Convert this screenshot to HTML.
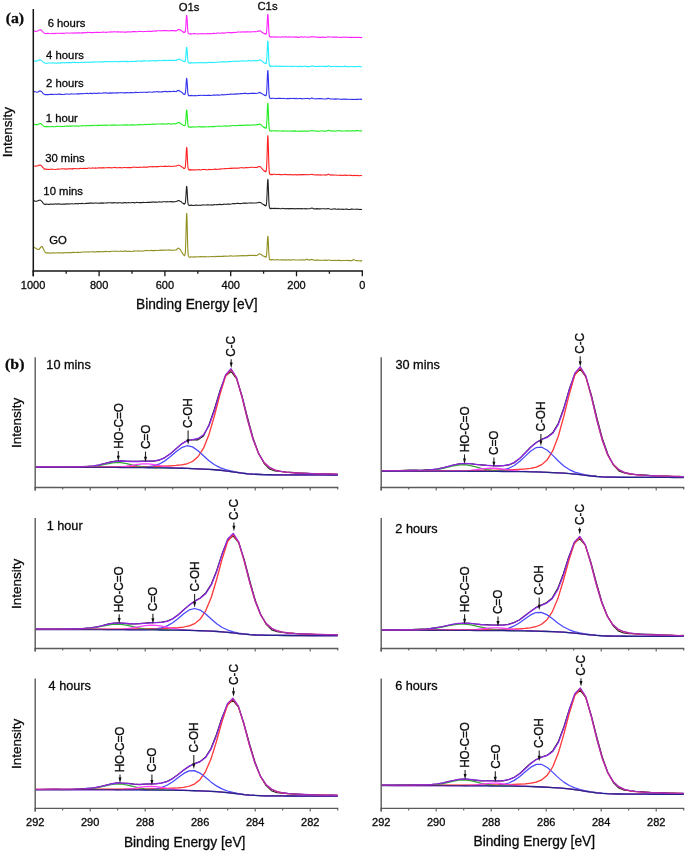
<!DOCTYPE html>
<html><head><meta charset="utf-8"><style>
html,body{margin:0;padding:0;background:#fff;width:685px;height:851px;overflow:hidden}
svg{display:block;will-change:transform;filter:blur(0.35px)}
</style></head><body>
<svg width="685" height="851" viewBox="0 0 685 851">
<rect width="685" height="851" fill="#fff"/>
<path d="M33.3 30.91 L34.3 30.92 L35.3 31.35 L36.3 31.18 L37.3 31.25 L38.3 30.64 L39.3 29.94 L40.3 29.9 L41.3 30.12 L42.3 31.37 L43.3 32.35 L44.3 33.17 L45.3 33.46 L46.3 33.66 L47.3 33.31 L48.3 33.35 L49.3 33.55 L50.3 33.7 L51.3 33.51 L52.3 33.41 L53.3 33.68 L54.3 33.21 L55.3 33.6 L56.3 33.3 L57.3 33.21 L58.3 33.18 L59.3 33.25 L60.3 33.49 L61.3 33.15 L62.3 33.33 L63.3 33.34 L64.3 33.18 L65.3 33.24 L66.3 32.98 L67.3 32.95 L68.3 33 L69.3 33.21 L70.3 33.05 L71.3 32.97 L72.3 33.08 L73.3 32.98 L74.3 32.87 L75.3 33.09 L76.3 33.02 L77.3 32.76 L78.3 32.89 L79.3 32.84 L80.3 32.98 L81.3 32.88 L82.3 32.63 L83.3 32.94 L84.3 32.48 L85.3 32.6 L86.3 32.74 L87.3 32.41 L88.3 32.54 L89.3 32.29 L90.3 32.58 L91.3 32.59 L92.3 32.47 L93.3 32.59 L94.3 32.28 L95.3 32.45 L96.3 32.37 L97.3 32.34 L98.3 32.25 L99.3 32.42 L100.3 32.44 L101.3 32.19 L102.3 32.26 L103.3 31.93 L104.3 32.23 L105.3 32.19 L106.3 32.34 L107.3 32.24 L108.3 31.95 L109.3 31.99 L110.3 32.11 L111.3 31.78 L112.3 31.99 L113.3 31.83 L114.3 31.79 L115.3 31.76 L116.3 32.1 L117.3 31.78 L118.3 31.84 L119.3 31.91 L120.3 32.15 L121.3 31.75 L122.3 31.93 L123.3 31.97 L124.3 32.13 L125.3 32.09 L126.3 32.1 L127.3 31.79 L128.3 31.84 L129.3 31.8 L130.3 32.04 L131.3 32.06 L132.3 31.63 L133.3 31.62 L134.3 31.62 L135.3 31.6 L136.3 31.69 L137.3 31.72 L138.3 31.53 L139.3 31.37 L140.3 31.54 L141.3 31.49 L142.3 31.55 L143.3 31.71 L144.3 31.55 L145.3 31.43 L146.3 31.45 L147.3 31.44 L148.3 31.1 L149.3 31.49 L150.3 31.39 L151.3 31.41 L152.3 31.33 L153.3 31.1 L154.3 31.07 L155.3 30.89 L156.3 31.13 L157.3 30.81 L158.3 30.78 L159.3 30.82 L160.3 30.77 L161.3 30.83 L162.3 30.67 L163.3 30.62 L164.3 30.67 L165.3 30.62 L166.3 30.73 L167.3 30.54 L168.3 30.95 L169.3 30.81 L170.3 30.56 L171.3 30.6 L172.3 30.64 L173.3 30.64 L174.3 30.51 L175.3 30.88 L176.3 30.9 L177.3 30.06 L178.3 29.6 L179.3 29.55 L180.3 30.02 L181.3 30.77 L182.3 31.4 L183.3 32.26 L183.5 32.02 L183.7 32.03 L183.9 32.57 L184.1 32.41 L184.3 32.26 L184.5 32.47 L184.7 32.16 L184.9 32.26 L185.1 32.19 L185.3 31.49 L185.5 30.13 L185.7 27.8 L185.9 24.98 L186.1 21.52 L186.3 18.58 L186.5 16.11 L186.7 15.44 L186.9 16.25 L187.1 18.78 L187.3 22.53 L187.5 26.15 L187.7 29.09 L187.9 31.26 L188.1 32.65 L188.3 33.38 L188.5 33.5 L188.7 33.81 L188.9 33.79 L189.1 33.65 L189.3 33.66 L189.5 33.78 L189.7 33.77 L189.9 33.98 L190.1 34.11 L190.3 33.86 L190.5 34.1 L190.7 34.12 L190.9 34.1 L191.1 33.8 L192.1 33.71 L193.1 33.69 L194.1 33.65 L195.1 33.63 L196.1 33.81 L197.1 33.93 L198.1 33.88 L199.1 33.69 L200.1 33.78 L201.1 33.85 L202.1 33.48 L203.1 33.76 L204.1 33.87 L205.1 33.8 L206.1 33.76 L207.1 33.6 L208.1 33.43 L209.1 33.71 L210.1 33.45 L211.1 33.65 L212.1 33.7 L213.1 33.38 L214.1 33.34 L215.1 33.57 L216.1 33.42 L217.1 33.1 L218.1 33.03 L219.1 32.99 L220.1 33.32 L221.1 33.22 L222.1 32.84 L223.1 33.13 L224.1 33.16 L225.1 32.95 L226.1 32.74 L227.1 32.79 L228.1 32.52 L229.1 32.41 L230.1 32.84 L231.1 32.62 L232.1 32.51 L233.1 32.66 L234.1 32.36 L235.1 32.53 L236.1 32.46 L237.1 32.1 L238.1 32.07 L239.1 32.05 L240.1 31.98 L241.1 32.11 L242.1 31.9 L243.1 31.94 L244.1 31.76 L245.1 32.12 L246.1 31.81 L247.1 31.83 L248.1 31.86 L249.1 32 L250.1 31.73 L251.1 31.96 L252.1 31.74 L253.1 31.74 L254.1 31.72 L255.1 31.46 L256.1 31.67 L257.1 31.46 L258.1 31.01 L259.1 31.09 L260.1 30.83 L261.1 31.46 L262.1 32.3 L263.1 32.96 L264.1 33.41 L264.3 33.58 L264.5 33.66 L264.7 33.82 L264.9 33.5 L265.1 33.74 L265.3 33.68 L265.5 33.84 L265.7 34.23 L265.9 34.17 L266.1 34.08 L266.3 33.69 L266.5 32.74 L266.7 30.75 L266.9 28.18 L267.1 24.6 L267.3 20.66 L267.5 17.15 L267.7 14.72 L267.9 14.44 L268.1 16.25 L268.3 19.98 L268.5 24.16 L268.7 28.42 L268.9 31.85 L269.1 33.91 L269.3 35.53 L269.5 36.5 L269.7 36.82 L269.9 36.63 L270.1 36.68 L270.3 36.86 L270.5 36.68 L270.7 36.77 L270.9 36.69 L271.1 36.99 L271.3 37.04 L271.5 37.1 L271.7 36.73 L271.9 37.01 L272.1 36.98 L273.1 36.73 L274.1 37.1 L275.1 37.15 L276.1 36.78 L277.1 37.16 L278.1 36.89 L279.1 36.94 L280.1 37.2 L281.1 37.13 L282.1 36.81 L283.1 36.95 L284.1 37 L285.1 36.92 L286.1 36.86 L287.1 36.93 L288.1 37.14 L289.1 36.8 L290.1 37.08 L291.1 37.03 L292.1 36.83 L293.1 36.99 L294.1 37.14 L295.1 37.09 L296.1 36.87 L297.1 37.34 L298.1 37.24 L299.1 37.34 L300.1 36.9 L301.1 36.98 L302.1 36.87 L303.1 37.24 L304.1 36.99 L305.1 36.92 L306.1 37.07 L307.1 37.32 L308.1 37.27 L309.1 36.99 L310.1 36.88 L311.1 36.93 L312.1 36.61 L313.1 37.07 L314.1 36.92 L315.1 36.92 L316.1 37.24 L317.1 37.12 L318.1 36.95 L319.1 37.39 L320.1 37.24 L321.1 37.33 L322.1 36.98 L323.1 37.37 L324.1 36.98 L325.1 37.39 L326.1 37.18 L327.1 37.01 L328.1 36.73 L329.1 37 L330.1 37.05 L331.1 37.06 L332.1 37.27 L333.1 37.13 L334.1 37.08 L335.1 37.11 L336.1 37.06 L337.1 37.14 L338.1 37.21 L339.1 37.21 L340.1 37.44 L341.1 37.21 L342.1 37.33 L343.1 37.17 L344.1 37.26 L345.1 37.1 L346.1 37.22 L347.1 37.11 L348.1 37.48 L349.1 37.39 L350.1 37.21 L351.1 37.36 L352.1 37.6 L353.1 37.19 L354.1 37.55 L355.1 37.35 L356.1 37.39 L357.1 37.56 L358.1 37.34 L359.1 37.4 L360.1 37.49 L361.1 37.64 L362.1 37.32" fill="none" stroke="#ff22ff" stroke-width="1.1" stroke-linejoin="round" stroke-opacity="1.0"/>
<text x="47.63" y="26.5" font-size="11.3" text-anchor="start" font-family='"Liberation Sans", sans-serif' font-weight="normal" fill="#0a0a0a" stroke="#0a0a0a" stroke-width="0.3">6 hours</text>
<path d="M33.3 60.97 L34.3 61 L35.3 61.14 L36.3 61.15 L37.3 60.98 L38.3 60.38 L39.3 59.94 L40.3 59.69 L41.3 60.42 L42.3 61.11 L43.3 62.1 L44.3 62.78 L45.3 63.27 L46.3 63.28 L47.3 63.18 L48.3 62.98 L49.3 62.96 L50.3 62.97 L51.3 63.05 L52.3 62.89 L53.3 63.02 L54.3 62.91 L55.3 63.25 L56.3 63.24 L57.3 63.01 L58.3 62.84 L59.3 63.18 L60.3 62.84 L61.3 62.84 L62.3 62.64 L63.3 62.81 L64.3 62.83 L65.3 62.82 L66.3 62.64 L67.3 62.77 L68.3 62.5 L69.3 62.6 L70.3 62.48 L71.3 62.61 L72.3 62.4 L73.3 62.37 L74.3 62.48 L75.3 62.41 L76.3 62.56 L77.3 62.5 L78.3 62.58 L79.3 62.5 L80.3 62.5 L81.3 62.55 L82.3 62.28 L83.3 62.22 L84.3 62.51 L85.3 62.07 L86.3 62.32 L87.3 62.25 L88.3 61.92 L89.3 62.29 L90.3 62.29 L91.3 62.13 L92.3 62.15 L93.3 62.16 L94.3 61.8 L95.3 61.96 L96.3 61.92 L97.3 62.06 L98.3 62.02 L99.3 62.01 L100.3 61.86 L101.3 61.99 L102.3 61.87 L103.3 61.85 L104.3 61.6 L105.3 61.48 L106.3 61.51 L107.3 61.61 L108.3 61.46 L109.3 61.81 L110.3 61.66 L111.3 61.68 L112.3 61.67 L113.3 61.68 L114.3 61.58 L115.3 61.33 L116.3 61.72 L117.3 61.69 L118.3 61.56 L119.3 61.58 L120.3 61.64 L121.3 61.34 L122.3 61.67 L123.3 61.42 L124.3 61.33 L125.3 61.41 L126.3 61.63 L127.3 61.35 L128.3 61.61 L129.3 61.71 L130.3 61.44 L131.3 61.37 L132.3 61.39 L133.3 61.47 L134.3 61.49 L135.3 61.39 L136.3 61.37 L137.3 61.06 L138.3 61.07 L139.3 61.09 L140.3 61.3 L141.3 61.05 L142.3 61.15 L143.3 60.84 L144.3 60.83 L145.3 60.91 L146.3 61.07 L147.3 61.05 L148.3 61.01 L149.3 60.78 L150.3 60.86 L151.3 60.8 L152.3 60.77 L153.3 60.56 L154.3 60.92 L155.3 60.54 L156.3 60.9 L157.3 60.85 L158.3 60.36 L159.3 60.55 L160.3 60.7 L161.3 60.75 L162.3 60.46 L163.3 60.35 L164.3 60.3 L165.3 60.64 L166.3 60.26 L167.3 60.42 L168.3 60.19 L169.3 60.36 L170.3 60.56 L171.3 60.14 L172.3 60.48 L173.3 60.31 L174.3 60.5 L175.3 60.4 L176.3 60.12 L177.3 59.88 L178.3 59.2 L179.3 59.09 L180.3 59.44 L181.3 60.18 L182.3 60.7 L183.3 61.08 L183.5 61.07 L183.7 61.24 L183.9 61.28 L184.1 61.59 L184.3 61.2 L184.5 61.58 L184.7 61.59 L184.9 61.1 L185.1 61.27 L185.3 60.65 L185.5 59.69 L185.7 57.64 L185.9 55.29 L186.1 52.51 L186.3 50.13 L186.5 47.98 L186.7 47.23 L186.9 48.15 L187.1 50.24 L187.3 53.03 L187.5 56.01 L187.7 58.9 L187.9 60.46 L188.1 61.95 L188.3 62.24 L188.5 62.56 L188.7 62.82 L188.9 62.72 L189.1 62.83 L189.3 63.12 L189.5 63.08 L189.7 63.05 L189.9 62.95 L190.1 63.09 L190.3 63.1 L190.5 62.9 L190.7 62.99 L190.9 62.65 L191.1 62.99 L192.1 62.82 L193.1 62.95 L194.1 62.87 L195.1 62.67 L196.1 62.53 L197.1 62.94 L198.1 62.53 L199.1 62.69 L200.1 62.62 L201.1 62.6 L202.1 62.81 L203.1 62.92 L204.1 62.55 L205.1 62.73 L206.1 62.54 L207.1 62.64 L208.1 62.54 L209.1 62.39 L210.1 62.36 L211.1 62.35 L212.1 62.67 L213.1 62.43 L214.1 62.25 L215.1 62.55 L216.1 62.55 L217.1 62.24 L218.1 62.04 L219.1 62.02 L220.1 61.92 L221.1 61.99 L222.1 61.82 L223.1 61.84 L224.1 61.8 L225.1 61.9 L226.1 62.01 L227.1 61.89 L228.1 61.66 L229.1 61.61 L230.1 61.61 L231.1 61.49 L232.1 61.42 L233.1 61.23 L234.1 61.28 L235.1 61.58 L236.1 61.11 L237.1 61.25 L238.1 61.26 L239.1 61.33 L240.1 60.97 L241.1 60.95 L242.1 60.9 L243.1 60.93 L244.1 60.92 L245.1 61.14 L246.1 61.05 L247.1 61.03 L248.1 60.58 L249.1 60.56 L250.1 60.88 L251.1 60.95 L252.1 60.72 L253.1 60.76 L254.1 60.46 L255.1 60.65 L256.1 60.91 L257.1 60.78 L258.1 60.44 L259.1 60.17 L260.1 59.88 L261.1 60.34 L262.1 61.15 L263.1 62.16 L264.1 62.87 L264.3 63.08 L264.5 63.04 L264.7 63.05 L264.9 63.13 L265.1 62.99 L265.3 63.13 L265.5 63.02 L265.7 63.53 L265.9 63.31 L266.1 63.51 L266.3 62.81 L266.5 61.48 L266.7 59.41 L266.9 56.46 L267.1 52.67 L267.3 48.23 L267.5 43.86 L267.7 41.21 L267.9 41.05 L268.1 43.11 L268.3 46.93 L268.5 51.66 L268.7 56.52 L268.9 60.04 L269.1 62.88 L269.3 64.61 L269.5 65.73 L269.7 65.99 L269.9 66.29 L270.1 66.15 L270.3 66.06 L270.5 66.07 L270.7 66.43 L270.9 66.3 L271.1 66.11 L271.3 65.96 L271.5 66.2 L271.7 66.29 L271.9 66.16 L272.1 66.08 L273.1 66.29 L274.1 66.43 L275.1 66.08 L276.1 65.99 L277.1 66.15 L278.1 66.2 L279.1 66.34 L280.1 66.11 L281.1 66.41 L282.1 66.39 L283.1 66.29 L284.1 66.15 L285.1 66.54 L286.1 66.22 L287.1 66.48 L288.1 66.2 L289.1 66.2 L290.1 66.48 L291.1 66.26 L292.1 66.59 L293.1 66.37 L294.1 66.22 L295.1 66.25 L296.1 66.35 L297.1 66.48 L298.1 66.62 L299.1 66.22 L300.1 66.35 L301.1 66.26 L302.1 66.64 L303.1 66.22 L304.1 66.18 L305.1 66.18 L306.1 66.35 L307.1 66.61 L308.1 66.6 L309.1 66.53 L310.1 66.6 L311.1 66.22 L312.1 65.78 L313.1 66.11 L314.1 66.63 L315.1 66.55 L316.1 66.2 L317.1 66.52 L318.1 66.38 L319.1 66.38 L320.1 66.36 L321.1 66.29 L322.1 66.21 L323.1 66.35 L324.1 66.39 L325.1 66.7 L326.1 66.28 L327.1 66.58 L328.1 65.81 L329.1 65.97 L330.1 66.57 L331.1 66.66 L332.1 66.47 L333.1 66.28 L334.1 66.5 L335.1 66.46 L336.1 66.73 L337.1 66.37 L338.1 66.47 L339.1 66.74 L340.1 66.31 L341.1 66.5 L342.1 66.71 L343.1 66.69 L344.1 66.33 L345.1 66.33 L346.1 66.35 L347.1 66.78 L348.1 66.45 L349.1 66.7 L350.1 66.78 L351.1 66.5 L352.1 66.47 L353.1 66.82 L354.1 66.65 L355.1 66.47 L356.1 66.7 L357.1 66.5 L358.1 66.49 L359.1 66.35 L360.1 66.73 L361.1 66.81 L362.1 66.67" fill="none" stroke="#22eeff" stroke-width="1.1" stroke-linejoin="round" stroke-opacity="1.0"/>
<text x="46.12" y="58.8" font-size="11.3" text-anchor="start" font-family='"Liberation Sans", sans-serif' font-weight="normal" fill="#0a0a0a" stroke="#0a0a0a" stroke-width="0.3">4 hours</text>
<path d="M33.3 91.92 L34.3 91.55 L35.3 91.84 L36.3 92.08 L37.3 92.2 L38.3 91.82 L39.3 91.13 L40.3 90.88 L41.3 91.41 L42.3 92.46 L43.3 93.81 L44.3 94.22 L45.3 94.65 L46.3 94.62 L47.3 94.66 L48.3 94.63 L49.3 94.54 L50.3 94.39 L51.3 94.37 L52.3 94.38 L53.3 94.58 L54.3 94.22 L55.3 94.26 L56.3 94.52 L57.3 94.25 L58.3 94.14 L59.3 94.11 L60.3 94.34 L61.3 94.21 L62.3 94.51 L63.3 94.44 L64.3 94.47 L65.3 94.08 L66.3 93.96 L67.3 93.94 L68.3 94.12 L69.3 94.19 L70.3 94.03 L71.3 93.9 L72.3 93.96 L73.3 94.03 L74.3 94.02 L75.3 94.03 L76.3 94.05 L77.3 93.92 L78.3 93.62 L79.3 93.95 L80.3 93.64 L81.3 93.74 L82.3 93.61 L83.3 93.76 L84.3 93.46 L85.3 93.45 L86.3 93.42 L87.3 93.34 L88.3 93.67 L89.3 93.49 L90.3 93.33 L91.3 93.34 L92.3 93.6 L93.3 93.33 L94.3 93.16 L95.3 93.42 L96.3 93.32 L97.3 93.46 L98.3 92.98 L99.3 93.14 L100.3 93.29 L101.3 93.28 L102.3 93.29 L103.3 92.83 L104.3 92.93 L105.3 92.82 L106.3 92.84 L107.3 93.21 L108.3 93 L109.3 93.16 L110.3 92.86 L111.3 93.09 L112.3 92.87 L113.3 92.77 L114.3 93.02 L115.3 93.09 L116.3 92.66 L117.3 92.9 L118.3 92.91 L119.3 92.71 L120.3 92.78 L121.3 92.67 L122.3 92.7 L123.3 92.71 L124.3 92.88 L125.3 92.89 L126.3 92.65 L127.3 92.54 L128.3 92.68 L129.3 92.84 L130.3 92.57 L131.3 92.61 L132.3 92.53 L133.3 92.81 L134.3 92.65 L135.3 92.38 L136.3 92.37 L137.3 92.49 L138.3 92.54 L139.3 92.55 L140.3 92.24 L141.3 92.24 L142.3 92.48 L143.3 92.3 L144.3 92.2 L145.3 92.18 L146.3 92.46 L147.3 92.11 L148.3 92.2 L149.3 92.06 L150.3 92.05 L151.3 92.24 L152.3 92.27 L153.3 91.92 L154.3 91.8 L155.3 92.03 L156.3 91.74 L157.3 91.6 L158.3 92.02 L159.3 91.75 L160.3 91.92 L161.3 91.68 L162.3 91.89 L163.3 91.66 L164.3 91.48 L165.3 91.39 L166.3 91.63 L167.3 91.66 L168.3 91.77 L169.3 91.35 L170.3 91.6 L171.3 91.46 L172.3 91.52 L173.3 91.33 L174.3 91.4 L175.3 91.51 L176.3 91.67 L177.3 90.69 L178.3 90.4 L179.3 90.76 L180.3 91.46 L181.3 91.93 L182.3 92.79 L183.3 93.98 L183.5 94.12 L183.7 93.99 L183.9 93.87 L184.1 94.38 L184.3 94.17 L184.5 94.45 L184.7 94.27 L184.9 94.23 L185.1 93.63 L185.3 93.34 L185.5 91.88 L185.7 90 L185.9 87.54 L186.1 84.4 L186.3 81.06 L186.5 78.89 L186.7 78.25 L186.9 79.28 L187.1 81.64 L187.3 84.74 L187.5 88.1 L187.7 91.15 L187.9 93.29 L188.1 94.16 L188.3 95.13 L188.5 95.58 L188.7 95.38 L188.9 95.84 L189.1 95.5 L189.3 95.74 L189.5 95.72 L189.7 95.75 L189.9 95.59 L190.1 95.65 L190.3 95.72 L190.5 95.64 L190.7 95.76 L190.9 95.65 L191.1 95.64 L192.1 95.41 L193.1 95.68 L194.1 95.59 L195.1 95.44 L196.1 95.68 L197.1 95.67 L198.1 95.49 L199.1 95.34 L200.1 95.49 L201.1 95.3 L202.1 95.31 L203.1 95.45 L204.1 95.26 L205.1 95.42 L206.1 95.43 L207.1 95.17 L208.1 95.45 L209.1 95.14 L210.1 95.43 L211.1 95.42 L212.1 95.25 L213.1 94.98 L214.1 95.16 L215.1 95.05 L216.1 95.29 L217.1 94.84 L218.1 95.15 L219.1 95.16 L220.1 94.98 L221.1 94.97 L222.1 94.6 L223.1 94.94 L224.1 94.64 L225.1 94.81 L226.1 94.73 L227.1 94.3 L228.1 94.55 L229.1 94.57 L230.1 94.07 L231.1 94.16 L232.1 94.3 L233.1 93.95 L234.1 94.26 L235.1 93.9 L236.1 94.11 L237.1 93.72 L238.1 93.85 L239.1 94.01 L240.1 93.6 L241.1 93.58 L242.1 93.66 L243.1 93.52 L244.1 93.34 L245.1 93.37 L246.1 93.33 L247.1 93.68 L248.1 93.52 L249.1 93.6 L250.1 93.21 L251.1 93.5 L252.1 93.15 L253.1 93.34 L254.1 93.38 L255.1 93.23 L256.1 93.49 L257.1 93.24 L258.1 92.9 L259.1 92.73 L260.1 92.39 L261.1 93.3 L262.1 93.8 L263.1 94.4 L264.1 95.16 L264.3 94.96 L264.5 95.38 L264.7 95.22 L264.9 95.13 L265.1 95.34 L265.3 95.27 L265.5 95.28 L265.7 95.7 L265.9 95.4 L266.1 95.61 L266.3 94.71 L266.5 93.61 L266.7 91.59 L266.9 88.05 L267.1 83.68 L267.3 78.55 L267.5 73.87 L267.7 70.96 L267.9 70.57 L268.1 73.02 L268.3 77.23 L268.5 82.56 L268.7 87.89 L268.9 91.71 L269.1 94.72 L269.3 96.74 L269.5 97.39 L269.7 97.84 L269.9 98.22 L270.1 98.17 L270.3 98.32 L270.5 98.26 L270.7 98.44 L270.9 98.45 L271.1 98.25 L271.3 98.46 L271.5 98.39 L271.7 98.22 L271.9 98.62 L272.1 98.28 L273.1 98.23 L274.1 98.21 L275.1 98.49 L276.1 98.61 L277.1 98.57 L278.1 98.39 L279.1 98.33 L280.1 98.21 L281.1 98.54 L282.1 98.51 L283.1 98.41 L284.1 98.57 L285.1 98.48 L286.1 98.73 L287.1 98.64 L288.1 98.41 L289.1 98.74 L290.1 98.32 L291.1 98.57 L292.1 98.52 L293.1 98.44 L294.1 98.36 L295.1 98.73 L296.1 98.35 L297.1 98.62 L298.1 98.82 L299.1 98.42 L300.1 98.45 L301.1 98.65 L302.1 98.61 L303.1 98.68 L304.1 98.77 L305.1 98.45 L306.1 98.52 L307.1 98.53 L308.1 98.41 L309.1 98.83 L310.1 98.73 L311.1 98.36 L312.1 97.86 L313.1 98.69 L314.1 98.8 L315.1 98.69 L316.1 98.84 L317.1 98.71 L318.1 98.61 L319.1 98.56 L320.1 98.64 L321.1 98.56 L322.1 98.72 L323.1 98.94 L324.1 98.93 L325.1 99.02 L326.1 98.96 L327.1 98.64 L328.1 98.4 L329.1 98.43 L330.1 99 L331.1 98.96 L332.1 98.85 L333.1 99.05 L334.1 99.23 L335.1 98.87 L336.1 99.22 L337.1 98.81 L338.1 98.95 L339.1 98.95 L340.1 99.22 L341.1 99.33 L342.1 99.25 L343.1 99.05 L344.1 99.35 L345.1 99.08 L346.1 99.05 L347.1 99.4 L348.1 99.27 L349.1 99.32 L350.1 99.31 L351.1 99.48 L352.1 99.23 L353.1 99.43 L354.1 99.37 L355.1 99.45 L356.1 99.25 L357.1 99.4 L358.1 99.33 L359.1 99.2 L360.1 99.15 L361.1 99.36 L362.1 99.09" fill="none" stroke="#3333ee" stroke-width="1.1" stroke-linejoin="round" stroke-opacity="1.0"/>
<text x="46.03" y="86.8" font-size="11.3" text-anchor="start" font-family='"Liberation Sans", sans-serif' font-weight="normal" fill="#0a0a0a" stroke="#0a0a0a" stroke-width="0.3">2 hours</text>
<path d="M33.3 124.61 L34.3 124.32 L35.3 124.44 L36.3 124.6 L37.3 124.89 L38.3 124.22 L39.3 123.71 L40.3 123.46 L41.3 123.84 L42.3 125.01 L43.3 125.92 L44.3 126.6 L45.3 126.72 L46.3 126.38 L47.3 126.64 L48.3 126.52 L49.3 126.74 L50.3 126.74 L51.3 126.76 L52.3 126.34 L53.3 126.73 L54.3 126.74 L55.3 126.74 L56.3 126.31 L57.3 126.34 L58.3 126.27 L59.3 126.22 L60.3 126.6 L61.3 126.57 L62.3 126.46 L63.3 126.53 L64.3 126.41 L65.3 126.21 L66.3 126.09 L67.3 126.07 L68.3 126.37 L69.3 126.07 L70.3 126.1 L71.3 126.12 L72.3 125.89 L73.3 125.98 L74.3 125.97 L75.3 126.15 L76.3 125.95 L77.3 125.9 L78.3 126.19 L79.3 125.93 L80.3 126.07 L81.3 125.92 L82.3 125.6 L83.3 125.76 L84.3 125.74 L85.3 125.88 L86.3 125.63 L87.3 125.78 L88.3 125.67 L89.3 125.48 L90.3 125.77 L91.3 125.36 L92.3 125.69 L93.3 125.34 L94.3 125.23 L95.3 125.3 L96.3 125.55 L97.3 125.64 L98.3 125.12 L99.3 125.34 L100.3 125.32 L101.3 125.45 L102.3 125.12 L103.3 125.25 L104.3 125.16 L105.3 125.38 L106.3 125.08 L107.3 125.4 L108.3 125.05 L109.3 125 L110.3 125.23 L111.3 125.12 L112.3 124.91 L113.3 125.16 L114.3 124.88 L115.3 125.22 L116.3 125.17 L117.3 125.21 L118.3 125.13 L119.3 124.99 L120.3 125.01 L121.3 125.01 L122.3 125.25 L123.3 124.84 L124.3 125.23 L125.3 124.79 L126.3 124.87 L127.3 124.88 L128.3 125.19 L129.3 124.97 L130.3 124.89 L131.3 125.12 L132.3 124.77 L133.3 124.86 L134.3 124.87 L135.3 124.96 L136.3 124.93 L137.3 124.85 L138.3 124.67 L139.3 124.63 L140.3 124.51 L141.3 124.82 L142.3 124.7 L143.3 124.71 L144.3 124.39 L145.3 124.49 L146.3 124.62 L147.3 124.49 L148.3 124.23 L149.3 124.37 L150.3 124.55 L151.3 124.19 L152.3 124.13 L153.3 124.15 L154.3 124.32 L155.3 124.36 L156.3 123.99 L157.3 123.96 L158.3 123.97 L159.3 123.98 L160.3 124.05 L161.3 123.85 L162.3 123.9 L163.3 123.81 L164.3 124.18 L165.3 124.03 L166.3 123.7 L167.3 124.11 L168.3 123.67 L169.3 123.79 L170.3 124.08 L171.3 123.97 L172.3 123.93 L173.3 123.78 L174.3 123.65 L175.3 123.87 L176.3 123.56 L177.3 123.03 L178.3 122.65 L179.3 122.62 L180.3 123.26 L181.3 124.09 L182.3 124.71 L183.3 125.2 L183.5 125.36 L183.7 125.35 L183.9 125.26 L184.1 125.55 L184.3 125.49 L184.5 125.67 L184.7 125.71 L184.9 125.33 L185.1 125.14 L185.3 124.63 L185.5 123.29 L185.7 121.24 L185.9 118.82 L186.1 115.79 L186.3 112.73 L186.5 110.52 L186.7 109.88 L186.9 110.76 L187.1 113.15 L187.3 116.26 L187.5 119.48 L187.7 122.43 L187.9 124.2 L188.1 125.66 L188.3 126.55 L188.5 126.86 L188.7 126.97 L188.9 126.84 L189.1 126.95 L189.3 126.97 L189.5 127.05 L189.7 126.95 L189.9 127.08 L190.1 127.2 L190.3 126.82 L190.5 127.06 L190.7 127.12 L190.9 126.92 L191.1 126.96 L192.1 127.19 L193.1 126.69 L194.1 126.92 L195.1 126.71 L196.1 126.99 L197.1 127.05 L198.1 126.82 L199.1 126.6 L200.1 126.84 L201.1 126.82 L202.1 126.9 L203.1 126.79 L204.1 126.84 L205.1 126.92 L206.1 126.75 L207.1 126.68 L208.1 126.92 L209.1 126.53 L210.1 126.74 L211.1 126.57 L212.1 126.72 L213.1 126.37 L214.1 126.76 L215.1 126.41 L216.1 126.22 L217.1 126.29 L218.1 126.31 L219.1 126.08 L220.1 126.24 L221.1 126.19 L222.1 126.29 L223.1 126.07 L224.1 125.98 L225.1 125.91 L226.1 126.12 L227.1 126.17 L228.1 125.92 L229.1 125.72 L230.1 125.96 L231.1 125.71 L232.1 125.57 L233.1 125.49 L234.1 125.76 L235.1 125.73 L236.1 125.6 L237.1 125.48 L238.1 125.48 L239.1 125.27 L240.1 125.6 L241.1 125.25 L242.1 125.36 L243.1 125.42 L244.1 125.38 L245.1 125.17 L246.1 125.06 L247.1 125.16 L248.1 124.92 L249.1 125.25 L250.1 124.99 L251.1 125.22 L252.1 124.91 L253.1 124.96 L254.1 124.89 L255.1 124.97 L256.1 124.84 L257.1 124.67 L258.1 124.67 L259.1 124.13 L260.1 124.19 L261.1 124.82 L262.1 125.8 L263.1 126.7 L264.1 127.52 L264.3 127.62 L264.5 127.55 L264.7 127.88 L264.9 127.87 L265.1 127.49 L265.3 127.97 L265.5 128.15 L265.7 128.22 L265.9 127.95 L266.1 128.12 L266.3 127.41 L266.5 125.82 L266.7 123.64 L266.9 120.8 L267.1 116.27 L267.3 111.15 L267.5 106.59 L267.7 103.71 L267.9 103.31 L268.1 105.79 L268.3 109.84 L268.5 115 L268.7 120.48 L268.9 124.59 L269.1 127.21 L269.3 129.37 L269.5 130.19 L269.7 130.73 L269.9 130.87 L270.1 131.06 L270.3 131.03 L270.5 131.07 L270.7 130.75 L270.9 131 L271.1 130.92 L271.3 131.02 L271.5 130.87 L271.7 131.09 L271.9 130.93 L272.1 130.79 L273.1 130.78 L274.1 130.73 L275.1 130.91 L276.1 130.7 L277.1 130.92 L278.1 130.76 L279.1 130.94 L280.1 130.96 L281.1 130.99 L282.1 131.16 L283.1 130.74 L284.1 131.16 L285.1 130.99 L286.1 131.04 L287.1 131.11 L288.1 131.2 L289.1 130.98 L290.1 131.01 L291.1 131.29 L292.1 130.85 L293.1 131.14 L294.1 131.15 L295.1 130.85 L296.1 131.15 L297.1 131.19 L298.1 131.31 L299.1 131.01 L300.1 131.34 L301.1 131.11 L302.1 131.09 L303.1 131.3 L304.1 130.86 L305.1 131.2 L306.1 131.15 L307.1 131.01 L308.1 131.27 L309.1 131.01 L310.1 131 L311.1 130.68 L312.1 130.65 L313.1 130.76 L314.1 131.02 L315.1 131.02 L316.1 131.08 L317.1 131.21 L318.1 130.94 L319.1 131.2 L320.1 130.98 L321.1 131.02 L322.1 130.9 L323.1 131.01 L324.1 131.24 L325.1 131.07 L326.1 131.13 L327.1 130.76 L328.1 130.35 L329.1 130.41 L330.1 130.92 L331.1 131.01 L332.1 131.09 L333.1 130.71 L334.1 131.04 L335.1 131.11 L336.1 130.94 L337.1 130.68 L338.1 130.8 L339.1 130.65 L340.1 130.73 L341.1 131.09 L342.1 130.93 L343.1 130.95 L344.1 131.01 L345.1 131.06 L346.1 130.91 L347.1 130.9 L348.1 130.9 L349.1 130.93 L350.1 130.88 L351.1 130.92 L352.1 130.68 L353.1 130.9 L354.1 130.79 L355.1 130.94 L356.1 130.61 L357.1 130.65 L358.1 130.57 L359.1 130.94 L360.1 131.01 L361.1 130.88 L362.1 130.73" fill="none" stroke="#22ee22" stroke-width="1.1" stroke-linejoin="round" stroke-opacity="1.0"/>
<text x="45.75" y="121.9" font-size="11.3" text-anchor="start" font-family='"Liberation Sans", sans-serif' font-weight="normal" fill="#0a0a0a" stroke="#0a0a0a" stroke-width="0.3">1 hour</text>
<path d="M33.3 165.96 L34.3 166.04 L35.3 166.1 L36.3 166.07 L37.3 165.96 L38.3 165.61 L39.3 165.11 L40.3 164.97 L41.3 165.61 L42.3 167.01 L43.3 167.96 L44.3 169.19 L45.3 169.07 L46.3 169.11 L47.3 169.45 L48.3 169.33 L49.3 169.49 L50.3 169.25 L51.3 169.02 L52.3 169.2 L53.3 169.29 L54.3 169.44 L55.3 169.45 L56.3 169.18 L57.3 169.13 L58.3 168.96 L59.3 169.21 L60.3 168.97 L61.3 168.92 L62.3 168.82 L63.3 168.79 L64.3 169.11 L65.3 168.8 L66.3 169.19 L67.3 168.73 L68.3 169.09 L69.3 168.69 L70.3 168.6 L71.3 168.92 L72.3 168.65 L73.3 168.87 L74.3 168.56 L75.3 168.46 L76.3 168.79 L77.3 168.73 L78.3 168.76 L79.3 168.67 L80.3 168.31 L81.3 168.55 L82.3 168.56 L83.3 168.4 L84.3 168.6 L85.3 168.23 L86.3 168.55 L87.3 168.39 L88.3 168 L89.3 167.97 L90.3 168.26 L91.3 168.31 L92.3 167.91 L93.3 167.99 L94.3 168.17 L95.3 167.86 L96.3 168.18 L97.3 167.96 L98.3 167.72 L99.3 167.85 L100.3 167.92 L101.3 167.83 L102.3 167.92 L103.3 167.63 L104.3 167.94 L105.3 167.7 L106.3 167.82 L107.3 167.79 L108.3 167.66 L109.3 167.63 L110.3 167.82 L111.3 167.88 L112.3 167.79 L113.3 167.67 L114.3 167.52 L115.3 167.39 L116.3 167.84 L117.3 167.7 L118.3 167.76 L119.3 167.51 L120.3 167.65 L121.3 167.83 L122.3 167.75 L123.3 167.63 L124.3 167.48 L125.3 167.52 L126.3 167.74 L127.3 167.47 L128.3 167.6 L129.3 167.54 L130.3 167.67 L131.3 167.6 L132.3 167.31 L133.3 167.15 L134.3 167.25 L135.3 167.3 L136.3 167.35 L137.3 167.44 L138.3 167.44 L139.3 166.98 L140.3 167.34 L141.3 167.3 L142.3 167.29 L143.3 167.11 L144.3 166.92 L145.3 167.17 L146.3 167.11 L147.3 167.02 L148.3 167.09 L149.3 166.77 L150.3 166.6 L151.3 166.8 L152.3 166.89 L153.3 166.55 L154.3 166.79 L155.3 166.85 L156.3 166.46 L157.3 166.62 L158.3 166.62 L159.3 166.48 L160.3 166.32 L161.3 166.32 L162.3 166.54 L163.3 166.53 L164.3 166.34 L165.3 166.13 L166.3 166.46 L167.3 166.43 L168.3 166.14 L169.3 166.29 L170.3 166.44 L171.3 166.42 L172.3 166.23 L173.3 166.2 L174.3 166.25 L175.3 166.05 L176.3 166 L177.3 165.42 L178.3 165.21 L179.3 165.21 L180.3 165.85 L181.3 166.51 L182.3 167.36 L183.3 167.85 L183.5 167.91 L183.7 168.48 L183.9 168.25 L184.1 168.19 L184.3 168.5 L184.5 168.58 L184.7 168.21 L184.9 168.24 L185.1 167.74 L185.3 167.01 L185.5 165.19 L185.7 162.63 L185.9 159.59 L186.1 155.43 L186.3 151.27 L186.5 148.42 L186.7 147.28 L186.9 148.77 L187.1 151.72 L187.3 156.16 L187.5 160.34 L187.7 164.01 L187.9 166.74 L188.1 168.07 L188.3 168.89 L188.5 169.43 L188.7 169.62 L188.9 169.65 L189.1 169.66 L189.3 169.92 L189.5 170.08 L189.7 169.87 L189.9 170.11 L190.1 170.09 L190.3 169.67 L190.5 169.93 L190.7 169.83 L190.9 169.68 L191.1 170.1 L192.1 169.73 L193.1 169.86 L194.1 169.87 L195.1 170 L196.1 169.84 L197.1 169.68 L198.1 169.69 L199.1 169.53 L200.1 169.93 L201.1 169.94 L202.1 169.55 L203.1 169.45 L204.1 169.54 L205.1 169.57 L206.1 169.83 L207.1 169.8 L208.1 169.74 L209.1 169.31 L210.1 169.65 L211.1 169.57 L212.1 169.5 L213.1 169.63 L214.1 169.12 L215.1 169.12 L216.1 169.37 L217.1 169.42 L218.1 169.23 L219.1 168.99 L220.1 169.08 L221.1 169.11 L222.1 168.72 L223.1 168.77 L224.1 168.68 L225.1 168.55 L226.1 168.67 L227.1 168.45 L228.1 168.43 L229.1 168.32 L230.1 168.53 L231.1 168.13 L232.1 168.42 L233.1 168.1 L234.1 167.97 L235.1 168.35 L236.1 167.94 L237.1 168.24 L238.1 168.16 L239.1 168.11 L240.1 167.69 L241.1 167.79 L242.1 167.57 L243.1 167.94 L244.1 167.85 L245.1 167.71 L246.1 167.58 L247.1 167.49 L248.1 167.7 L249.1 167.5 L250.1 167.55 L251.1 167.28 L252.1 167.3 L253.1 167.2 L254.1 167.52 L255.1 167.43 L256.1 167.22 L257.1 167.5 L258.1 166.84 L259.1 166.59 L260.1 166.58 L261.1 167.45 L262.1 168.93 L263.1 169.92 L264.1 170.8 L264.3 171.09 L264.5 171.1 L264.7 171.46 L264.9 171.1 L265.1 171.55 L265.3 171.18 L265.5 171.73 L265.7 171.74 L265.9 171.51 L266.1 171.34 L266.3 170.34 L266.5 168.49 L266.7 165.33 L266.9 160.64 L267.1 154.65 L267.3 147.57 L267.5 141.05 L267.7 136.41 L267.9 135.77 L268.1 139.12 L268.3 144.69 L268.5 152.42 L268.7 159.39 L268.9 165.61 L269.1 169.27 L269.3 172.21 L269.5 173.33 L269.7 173.88 L269.9 174.09 L270.1 174.61 L270.3 174.5 L270.5 174.34 L270.7 174.47 L270.9 174.71 L271.1 174.36 L271.3 174.54 L271.5 174.32 L271.7 174.34 L271.9 174.64 L272.1 174.61 L273.1 174.36 L274.1 174.3 L275.1 174.31 L276.1 174.58 L277.1 174.53 L278.1 174.43 L279.1 174.4 L280.1 174.61 L281.1 174.67 L282.1 174.73 L283.1 174.63 L284.1 174.45 L285.1 174.39 L286.1 174.73 L287.1 174.58 L288.1 174.74 L289.1 174.42 L290.1 174.81 L291.1 174.58 L292.1 174.84 L293.1 174.86 L294.1 174.68 L295.1 174.44 L296.1 174.9 L297.1 174.68 L298.1 174.88 L299.1 174.58 L300.1 174.54 L301.1 174.87 L302.1 174.64 L303.1 174.54 L304.1 174.65 L305.1 174.76 L306.1 174.47 L307.1 174.74 L308.1 174.71 L309.1 174.75 L310.1 174.5 L311.1 174.47 L312.1 174.38 L313.1 174.81 L314.1 174.71 L315.1 174.92 L316.1 174.77 L317.1 174.97 L318.1 174.64 L319.1 175.07 L320.1 175.12 L321.1 174.91 L322.1 174.94 L323.1 174.96 L324.1 174.99 L325.1 174.75 L326.1 175.23 L327.1 174.75 L328.1 174.35 L329.1 174.41 L330.1 174.87 L331.1 175.25 L332.1 174.88 L333.1 174.94 L334.1 175.26 L335.1 175.02 L336.1 174.95 L337.1 175.26 L338.1 175.27 L339.1 175.26 L340.1 175.37 L341.1 175.09 L342.1 175.49 L343.1 175.43 L344.1 175.11 L345.1 175.16 L346.1 175.36 L347.1 175.38 L348.1 175.28 L349.1 175.22 L350.1 175.37 L351.1 175.25 L352.1 175.49 L353.1 175.63 L354.1 175.29 L355.1 175.51 L356.1 175.6 L357.1 175.32 L358.1 175.65 L359.1 175.71 L360.1 175.44 L361.1 175.46 L362.1 175.67" fill="none" stroke="#ff2222" stroke-width="1.1" stroke-linejoin="round" stroke-opacity="1.0"/>
<text x="45.15" y="161.7" font-size="11.3" text-anchor="start" font-family='"Liberation Sans", sans-serif' font-weight="normal" fill="#0a0a0a" stroke="#0a0a0a" stroke-width="0.3">30 mins</text>
<path d="M33.3 200.81 L34.3 200.84 L35.3 201.29 L36.3 201.33 L37.3 200.99 L38.3 200.56 L39.3 200.21 L40.3 200.07 L41.3 200.86 L42.3 201.96 L43.3 203.34 L44.3 204.22 L45.3 204.37 L46.3 203.98 L47.3 204.2 L48.3 204.42 L49.3 204.4 L50.3 204.05 L51.3 204.13 L52.3 204.23 L53.3 204.08 L54.3 204.16 L55.3 203.91 L56.3 204.08 L57.3 204.1 L58.3 203.84 L59.3 203.89 L60.3 204.28 L61.3 204.17 L62.3 204.23 L63.3 204.06 L64.3 204.13 L65.3 204.14 L66.3 204.12 L67.3 203.67 L68.3 203.95 L69.3 203.74 L70.3 203.92 L71.3 203.69 L72.3 203.8 L73.3 203.97 L74.3 203.79 L75.3 203.58 L76.3 203.69 L77.3 203.62 L78.3 203.85 L79.3 203.49 L80.3 203.47 L81.3 203.62 L82.3 203.33 L83.3 203.53 L84.3 203.69 L85.3 203.44 L86.3 203.29 L87.3 203.36 L88.3 203.37 L89.3 203.15 L90.3 203.11 L91.3 203.09 L92.3 203.14 L93.3 203.18 L94.3 203.09 L95.3 203.04 L96.3 202.94 L97.3 203.15 L98.3 203.27 L99.3 203.14 L100.3 203.09 L101.3 203.11 L102.3 202.87 L103.3 203.1 L104.3 202.96 L105.3 202.99 L106.3 203 L107.3 202.91 L108.3 202.82 L109.3 202.77 L110.3 202.75 L111.3 202.88 L112.3 202.81 L113.3 202.9 L114.3 202.6 L115.3 202.77 L116.3 203.02 L117.3 202.7 L118.3 202.86 L119.3 202.82 L120.3 202.72 L121.3 203.07 L122.3 202.72 L123.3 202.95 L124.3 202.64 L125.3 202.58 L126.3 202.97 L127.3 202.74 L128.3 202.54 L129.3 202.69 L130.3 202.69 L131.3 202.82 L132.3 202.49 L133.3 202.53 L134.3 202.87 L135.3 202.74 L136.3 202.42 L137.3 202.49 L138.3 202.47 L139.3 202.6 L140.3 202.55 L141.3 202.64 L142.3 202.59 L143.3 202.41 L144.3 202.49 L145.3 202.47 L146.3 202.44 L147.3 202.27 L148.3 202.4 L149.3 202.33 L150.3 202.4 L151.3 201.98 L152.3 202.32 L153.3 201.86 L154.3 202.21 L155.3 202.09 L156.3 202.02 L157.3 202.22 L158.3 202 L159.3 201.9 L160.3 202.06 L161.3 202.08 L162.3 201.92 L163.3 201.79 L164.3 201.8 L165.3 201.79 L166.3 201.9 L167.3 201.67 L168.3 201.7 L169.3 201.77 L170.3 201.67 L171.3 201.63 L172.3 201.86 L173.3 201.88 L174.3 201.7 L175.3 201.67 L176.3 201.49 L177.3 200.98 L178.3 200.43 L179.3 200.82 L180.3 201.34 L181.3 201.81 L182.3 202.99 L183.3 203.35 L183.5 203.72 L183.7 203.81 L183.9 203.95 L184.1 203.64 L184.3 203.8 L184.5 204.05 L184.7 203.55 L184.9 203.41 L185.1 203.37 L185.3 202.66 L185.5 201.57 L185.7 199.32 L185.9 196.25 L186.1 193.02 L186.3 189.44 L186.5 187.02 L186.7 186.29 L186.9 187.2 L187.1 189.84 L187.3 193.51 L187.5 197.02 L187.7 200.4 L187.9 202.52 L188.1 203.87 L188.3 204.44 L188.5 204.96 L188.7 205.15 L188.9 205.29 L189.1 205.32 L189.3 205.48 L189.5 205.52 L189.7 205.28 L189.9 205.26 L190.1 205.35 L190.3 205.53 L190.5 205.2 L190.7 205.29 L190.9 205.43 L191.1 205.11 L192.1 205.16 L193.1 205.46 L194.1 205.36 L195.1 205.18 L196.1 204.96 L197.1 205.33 L198.1 205.21 L199.1 205.26 L200.1 205.35 L201.1 205.29 L202.1 205.05 L203.1 204.91 L204.1 204.96 L205.1 205.06 L206.1 205.03 L207.1 204.85 L208.1 204.82 L209.1 205.02 L210.1 204.97 L211.1 204.82 L212.1 205.1 L213.1 204.88 L214.1 204.54 L215.1 204.69 L216.1 204.83 L217.1 204.54 L218.1 204.69 L219.1 204.29 L220.1 204.39 L221.1 204.61 L222.1 204.43 L223.1 204.42 L224.1 204.13 L225.1 204.22 L226.1 204.2 L227.1 204 L228.1 204.13 L229.1 204.02 L230.1 204.2 L231.1 203.93 L232.1 203.79 L233.1 203.59 L234.1 203.56 L235.1 203.81 L236.1 203.43 L237.1 203.37 L238.1 203.36 L239.1 203.49 L240.1 203.59 L241.1 203.44 L242.1 203.49 L243.1 203.08 L244.1 203.02 L245.1 203.36 L246.1 203.1 L247.1 203.26 L248.1 203.05 L249.1 202.93 L250.1 202.96 L251.1 202.85 L252.1 203.24 L253.1 203.06 L254.1 202.94 L255.1 202.98 L256.1 202.94 L257.1 202.69 L258.1 202.76 L259.1 202.28 L260.1 202.53 L261.1 202.8 L262.1 203.68 L263.1 204.32 L264.1 204.85 L264.3 205.38 L264.5 205.41 L264.7 205.18 L264.9 205.5 L265.1 205.47 L265.3 205.3 L265.5 205.59 L265.7 205.91 L265.9 205.72 L266.1 205.75 L266.3 204.74 L266.5 203.46 L266.7 201.31 L266.9 197.54 L267.1 192.93 L267.3 187.98 L267.5 183.02 L267.7 180.08 L267.9 179.32 L268.1 181.61 L268.3 186.22 L268.5 191.69 L268.7 197.48 L268.9 201.55 L269.1 204.8 L269.3 206.48 L269.5 207.71 L269.7 208.12 L269.9 208.33 L270.1 208.24 L270.3 208.3 L270.5 208.66 L270.7 208.43 L270.9 208.37 L271.1 208.35 L271.3 208.39 L271.5 208.37 L271.7 208.27 L271.9 208.59 L272.1 208.43 L273.1 208.34 L274.1 208.62 L275.1 208.31 L276.1 208.41 L277.1 208.7 L278.1 208.35 L279.1 208.52 L280.1 208.72 L281.1 208.72 L282.1 208.4 L283.1 208.51 L284.1 208.71 L285.1 208.54 L286.1 208.84 L287.1 208.48 L288.1 208.86 L289.1 208.64 L290.1 208.51 L291.1 208.64 L292.1 208.48 L293.1 208.78 L294.1 208.56 L295.1 208.89 L296.1 208.73 L297.1 208.63 L298.1 208.57 L299.1 208.75 L300.1 208.56 L301.1 208.89 L302.1 208.51 L303.1 208.71 L304.1 208.73 L305.1 208.6 L306.1 208.85 L307.1 208.67 L308.1 208.81 L309.1 208.77 L310.1 208.59 L311.1 208.29 L312.1 208 L313.1 208.46 L314.1 208.96 L315.1 208.71 L316.1 208.9 L317.1 208.63 L318.1 208.87 L319.1 208.79 L320.1 208.87 L321.1 208.78 L322.1 208.68 L323.1 208.82 L324.1 208.8 L325.1 208.76 L326.1 209.07 L327.1 208.74 L328.1 208.42 L329.1 208.77 L330.1 209.09 L331.1 209.24 L332.1 209.25 L333.1 208.9 L334.1 208.99 L335.1 208.88 L336.1 209.22 L337.1 209.23 L338.1 209.09 L339.1 209.14 L340.1 209.28 L341.1 209.31 L342.1 209.1 L343.1 209.41 L344.1 209.18 L345.1 209.33 L346.1 209.12 L347.1 209.1 L348.1 209.51 L349.1 209.44 L350.1 209.44 L351.1 209.11 L352.1 209.12 L353.1 209.19 L354.1 209.22 L355.1 209.28 L356.1 209.32 L357.1 209.16 L358.1 209.3 L359.1 209.46 L360.1 209.24 L361.1 209.57 L362.1 209.44" fill="none" stroke="#222222" stroke-width="1.1" stroke-linejoin="round" stroke-opacity="1.0"/>
<text x="43.35" y="195" font-size="11.3" text-anchor="start" font-family='"Liberation Sans", sans-serif' font-weight="normal" fill="#0a0a0a" stroke="#0a0a0a" stroke-width="0.3">10 mins</text>
<path d="M33.3 247.21 L34.3 247.41 L35.3 248.04 L36.3 248.53 L37.3 249.21 L38.3 249.44 L39.3 249.15 L40.3 247.84 L41.3 246.56 L42.3 246.55 L43.3 248.73 L44.3 251 L45.3 252.49 L46.3 252.87 L47.3 252.8 L48.3 253.14 L49.3 252.84 L50.3 253.19 L51.3 253.1 L52.3 252.76 L53.3 253.05 L54.3 252.89 L55.3 253.05 L56.3 253.07 L57.3 252.78 L58.3 252.67 L59.3 253.08 L60.3 252.8 L61.3 253.03 L62.3 252.89 L63.3 252.89 L64.3 252.91 L65.3 252.78 L66.3 252.67 L67.3 252.44 L68.3 252.74 L69.3 252.57 L70.3 252.59 L71.3 252.76 L72.3 252.33 L73.3 252.62 L74.3 252.23 L75.3 252.53 L76.3 252.55 L77.3 252.24 L78.3 252.35 L79.3 252.53 L80.3 252.33 L81.3 252.25 L82.3 252.07 L83.3 251.94 L84.3 252.06 L85.3 252.05 L86.3 251.91 L87.3 251.93 L88.3 251.81 L89.3 252.07 L90.3 252.02 L91.3 251.77 L92.3 251.74 L93.3 251.84 L94.3 251.78 L95.3 251.99 L96.3 251.67 L97.3 251.62 L98.3 251.88 L99.3 251.48 L100.3 251.67 L101.3 251.53 L102.3 251.74 L103.3 251.59 L104.3 251.67 L105.3 251.35 L106.3 251.58 L107.3 251.53 L108.3 251.44 L109.3 251.58 L110.3 251.59 L111.3 251.22 L112.3 251.29 L113.3 251.32 L114.3 251.23 L115.3 251.15 L116.3 251.25 L117.3 251.2 L118.3 251.45 L119.3 251.32 L120.3 251.16 L121.3 251.26 L122.3 251.33 L123.3 251.27 L124.3 251.16 L125.3 251.1 L126.3 251.06 L127.3 251.53 L128.3 251.4 L129.3 251.04 L130.3 251.34 L131.3 251.45 L132.3 251.22 L133.3 250.96 L134.3 251.13 L135.3 251.07 L136.3 250.92 L137.3 251.06 L138.3 250.77 L139.3 251.19 L140.3 251.02 L141.3 250.98 L142.3 251.1 L143.3 250.92 L144.3 250.68 L145.3 250.65 L146.3 250.56 L147.3 250.46 L148.3 250.8 L149.3 250.8 L150.3 250.49 L151.3 250.4 L152.3 250.59 L153.3 250.66 L154.3 250.66 L155.3 250.25 L156.3 250.53 L157.3 250.52 L158.3 250.44 L159.3 250.2 L160.3 250.1 L161.3 250.39 L162.3 250.11 L163.3 250.11 L164.3 250.18 L165.3 250.06 L166.3 250.27 L167.3 249.96 L168.3 249.84 L169.3 250.09 L170.3 250.1 L171.3 250.19 L172.3 250.12 L173.3 250.21 L174.3 250.23 L175.3 250 L176.3 249.92 L177.3 248.82 L178.3 248.11 L179.3 248.64 L180.3 249.56 L181.3 251.48 L182.3 252.93 L183.3 254.54 L183.5 255.04 L183.7 254.81 L183.9 254.97 L184.1 255.32 L184.3 255.29 L184.5 255.59 L184.7 255.11 L184.9 255.15 L185.1 254.34 L185.3 252.6 L185.5 249.25 L185.7 244.11 L185.9 237.35 L186.1 229.14 L186.3 221.2 L186.5 215.38 L186.7 213.37 L186.9 215.79 L187.1 221.88 L187.3 230.02 L187.5 237.97 L187.7 245.1 L187.9 250.34 L188.1 253.67 L188.3 255.39 L188.5 256.21 L188.7 256.56 L188.9 256.83 L189.1 256.95 L189.3 257.22 L189.5 257.2 L189.7 257.17 L189.9 257.23 L190.1 257.22 L190.3 257.04 L190.5 257.14 L190.7 256.76 L190.9 257.06 L191.1 257.02 L192.1 256.85 L193.1 256.96 L194.1 257.13 L195.1 256.87 L196.1 256.92 L197.1 256.73 L198.1 256.74 L199.1 257 L200.1 256.56 L201.1 256.64 L202.1 256.88 L203.1 256.76 L204.1 256.57 L205.1 256.85 L206.1 256.69 L207.1 256.78 L208.1 256.69 L209.1 256.72 L210.1 256.72 L211.1 256.62 L212.1 256.45 L213.1 256.46 L214.1 256.79 L215.1 256.6 L216.1 256.35 L217.1 256.7 L218.1 256.36 L219.1 256.25 L220.1 256.44 L221.1 256.27 L222.1 256.35 L223.1 256.35 L224.1 256.16 L225.1 256.29 L226.1 256.03 L227.1 256.2 L228.1 256.2 L229.1 255.91 L230.1 256.04 L231.1 255.84 L232.1 255.99 L233.1 256.17 L234.1 255.98 L235.1 256.03 L236.1 256.01 L237.1 255.66 L238.1 256.07 L239.1 255.9 L240.1 255.57 L241.1 255.9 L242.1 255.66 L243.1 255.52 L244.1 255.89 L245.1 255.67 L246.1 255.75 L247.1 255.41 L248.1 255.72 L249.1 255.34 L250.1 255.41 L251.1 255.47 L252.1 255.28 L253.1 255.56 L254.1 255.36 L255.1 255.4 L256.1 255.6 L257.1 255.28 L258.1 254.7 L259.1 253.85 L260.1 253.98 L261.1 254.32 L262.1 255.24 L263.1 255.99 L264.1 256.23 L264.3 256.59 L264.5 256.45 L264.7 256.71 L264.9 256.69 L265.1 256.78 L265.3 256.51 L265.5 256.78 L265.7 257.11 L265.9 257.28 L266.1 257.04 L266.3 256.19 L266.5 255.39 L266.7 253.3 L266.9 250.73 L267.1 247.17 L267.3 242.68 L267.5 239.31 L267.7 236.76 L267.9 236.21 L268.1 238.08 L268.3 241.87 L268.5 246.55 L268.7 250.78 L268.9 254.1 L269.1 256.56 L269.3 258.14 L269.5 259.3 L269.7 259.38 L269.9 259.73 L270.1 259.66 L270.3 259.88 L270.5 259.74 L270.7 259.62 L270.9 259.99 L271.1 259.82 L271.3 259.9 L271.5 259.96 L271.7 260.03 L271.9 259.56 L272.1 259.73 L273.1 259.63 L274.1 259.81 L275.1 260 L276.1 259.97 L277.1 259.6 L278.1 259.68 L279.1 260.01 L280.1 259.95 L281.1 259.81 L282.1 259.86 L283.1 259.71 L284.1 260.07 L285.1 259.85 L286.1 260.1 L287.1 259.98 L288.1 259.72 L289.1 259.86 L290.1 259.81 L291.1 260.16 L292.1 260.01 L293.1 259.75 L294.1 259.82 L295.1 259.92 L296.1 259.97 L297.1 260.03 L298.1 259.94 L299.1 259.93 L300.1 259.75 L301.1 260.04 L302.1 259.92 L303.1 259.77 L304.1 259.98 L305.1 260.16 L306.1 259.26 L307.1 259.23 L308.1 259.97 L309.1 259.92 L310.1 259.87 L311.1 259.65 L312.1 259.39 L313.1 259.95 L314.1 260.1 L315.1 260.33 L316.1 260.36 L317.1 259.9 L318.1 260.17 L319.1 260.29 L320.1 260.36 L321.1 260.32 L322.1 260.27 L323.1 260.28 L324.1 260.16 L325.1 260.14 L326.1 260.41 L327.1 260.34 L328.1 259.99 L329.1 259.95 L330.1 260.15 L331.1 260.48 L332.1 260.49 L333.1 260.39 L334.1 260.47 L335.1 260.34 L336.1 260.46 L337.1 260.4 L338.1 260.25 L339.1 260.4 L340.1 260.41 L341.1 260.76 L342.1 260.52 L343.1 260.48 L344.1 260.43 L345.1 260.44 L346.1 260.51 L347.1 260.41 L348.1 260.36 L349.1 260.8 L350.1 260.61 L351.1 260.6 L352.1 260.49 L353.1 259.77 L354.1 259.82 L355.1 260.34 L356.1 260.58 L357.1 260.59 L358.1 260.8 L359.1 260.72 L360.1 260.92 L361.1 260.62 L362.1 260.91" fill="none" stroke="#909020" stroke-width="1.1" stroke-linejoin="round" stroke-opacity="1.0"/>
<text x="49.13" y="244.1" font-size="11.3" text-anchor="start" font-family='"Liberation Sans", sans-serif' font-weight="normal" fill="#0a0a0a" stroke="#0a0a0a" stroke-width="0.3">GO</text>
<line x1="33.3" y1="9" x2="33.3" y2="276.3" stroke="#151515" stroke-width="1.5"/>
<line x1="32.55" y1="271.1" x2="363.05" y2="271.1" stroke="#151515" stroke-width="1.5"/>
<line x1="33.3" y1="271.1" x2="33.3" y2="276.3" stroke="#151515" stroke-width="1.3"/>
<text x="20.87" y="288.8" font-size="11" text-anchor="start" font-family='"Liberation Sans", sans-serif' font-weight="normal" fill="#0a0a0a" stroke="#0a0a0a" stroke-width="0.3">1000</text>
<line x1="66.2" y1="271.1" x2="66.2" y2="273.7" stroke="#151515" stroke-width="1.3"/>
<line x1="99.1" y1="271.1" x2="99.1" y2="276.3" stroke="#151515" stroke-width="1.3"/>
<text x="89.91" y="288.8" font-size="11" text-anchor="start" font-family='"Liberation Sans", sans-serif' font-weight="normal" fill="#0a0a0a" stroke="#0a0a0a" stroke-width="0.3">800</text>
<line x1="132" y1="271.1" x2="132" y2="273.7" stroke="#151515" stroke-width="1.3"/>
<line x1="164.9" y1="271.1" x2="164.9" y2="276.3" stroke="#151515" stroke-width="1.3"/>
<text x="155.69" y="288.8" font-size="11" text-anchor="start" font-family='"Liberation Sans", sans-serif' font-weight="normal" fill="#0a0a0a" stroke="#0a0a0a" stroke-width="0.3">600</text>
<line x1="197.8" y1="271.1" x2="197.8" y2="273.7" stroke="#151515" stroke-width="1.3"/>
<line x1="230.7" y1="271.1" x2="230.7" y2="276.3" stroke="#151515" stroke-width="1.3"/>
<text x="221.62" y="288.8" font-size="11" text-anchor="start" font-family='"Liberation Sans", sans-serif' font-weight="normal" fill="#0a0a0a" stroke="#0a0a0a" stroke-width="0.3">400</text>
<line x1="263.6" y1="271.1" x2="263.6" y2="273.7" stroke="#151515" stroke-width="1.3"/>
<line x1="296.5" y1="271.1" x2="296.5" y2="276.3" stroke="#151515" stroke-width="1.3"/>
<text x="287.29" y="288.8" font-size="11" text-anchor="start" font-family='"Liberation Sans", sans-serif' font-weight="normal" fill="#0a0a0a" stroke="#0a0a0a" stroke-width="0.3">200</text>
<line x1="329.4" y1="271.1" x2="329.4" y2="273.7" stroke="#151515" stroke-width="1.3"/>
<line x1="362.3" y1="271.1" x2="362.3" y2="276.3" stroke="#151515" stroke-width="1.3"/>
<text x="359.25" y="288.8" font-size="11" text-anchor="start" font-family='"Liberation Sans", sans-serif' font-weight="normal" fill="#0a0a0a" stroke="#0a0a0a" stroke-width="0.3">0</text>
<text x="136" y="309.2" font-size="13.75" text-anchor="start" font-family='"Liberation Sans", sans-serif' font-weight="normal" fill="#0a0a0a" stroke="#0a0a0a" stroke-width="0.3">Binding Energy [eV]</text>
<text transform="matrix(0 -1 1.0 0 12.1 157.22)" font-size="13.5" text-anchor="start" font-family='"Liberation Sans", sans-serif' font-weight="normal" fill="#0a0a0a" stroke="#0a0a0a" stroke-width="0.3">Intensity</text>
<text x="178.79" y="11" font-size="11.3" text-anchor="start" font-family='"Liberation Sans", sans-serif' font-weight="normal" fill="#0a0a0a" stroke="#0a0a0a" stroke-width="0.3">O1s</text>
<text x="257.44" y="10.3" font-size="11.3" text-anchor="start" font-family='"Liberation Sans", sans-serif' font-weight="normal" fill="#0a0a0a" stroke="#0a0a0a" stroke-width="0.3">C1s</text>
<text transform="matrix(1.06 0 0 1 5.69 23)" font-size="14.91" text-anchor="start" font-family='"Liberation Serif", serif' font-weight="bold" fill="#0a0a0a" stroke="#0a0a0a" stroke-width="0.3">(a)</text>
<path d="M35.2 467.05 L38.5 466.76 L44 466.66 L49.5 466.84 L55 467.16 L60.5 466.92 L66 467.03 L71.5 466.85 L77 466.97 L82.5 466.46 L88 466.25 L93.5 466.02 L99 464.92 L104.5 463.57 L110 462.03 L115.5 460.98 L121 460.68 L126.5 461.19 L132 461.3 L137.5 461.34 L143 461.05 L148.5 461.12 L154 461.13 L159.5 460.12 L165 457.42 L170.5 453.61 L176 448.87 L181.5 444.07 L187 440.62 L192.5 439.73 L198 439.89 L203.5 435.98 L209 424.66 L214.5 408.75 L220 390.48 L225.5 376.04 L231 371.47 L236.5 378.64 L242 395.75 L247.5 417.48 L253 437.66 L258.5 453.08 L264 463.3 L269.5 469.02 L275 470.95 L280.5 471.39 L286 471.98 L291.5 472.26 L297 472.88 L302.5 473.12 L308 473.42 L313.5 473.71 L319 473.71 L324.5 473.88 L330 473.75 L335.5 474.27 L337.7 474.3" fill="none" stroke="#1a1a1a" stroke-width="1.1" stroke-linejoin="round" stroke-opacity="1.0"/>
<path d="M35.2 467.08 L38.5 467.07 L44 467.06 L49.5 467.05 L55 467.04 L60.5 467.02 L66 467.01 L71.5 466.99 L77 466.97 L82.5 466.95 L88 466.92 L93.5 466.9 L99 466.87 L104.5 466.85 L110 466.83 L115.5 466.81 L121 466.8 L126.5 466.78 L132 466.74 L137.5 466.69 L143 466.62 L148.5 466.53 L154 466.41 L159.5 466.26 L165 466.06 L170.5 465.81 L176 465.46 L181.5 464.88 L187 463.77 L192.5 461.46 L198 456.78 L203.5 448.19 L209 434.43 L214.5 415.56 L220 394.26 L225.5 376.32 L231 369.5 L236.5 377.9 L242 397.21 L247.5 419.58 L253 439.22 L258.5 453.54 L264 462.53 L269.5 467.54 L275 470.13 L280.5 471.47 L286 472.23 L291.5 472.71 L297 473.07 L302.5 473.34 L308 473.56 L313.5 473.75 L319 473.9 L324.5 474.02 L330 474.13 L335.5 474.22 L337.7 474.26" fill="none" stroke="#ff3a3a" stroke-width="1.25" stroke-linejoin="round" stroke-opacity="1.0"/>
<path d="M35.2 467.27 L38.5 467.27 L44 467.27 L49.5 467.27 L55 467.27 L60.5 467.27 L66 467.27 L71.5 467.27 L77 467.27 L82.5 467.27 L88 467.27 L93.5 467.27 L99 467.27 L104.5 467.28 L110 467.29 L115.5 467.32 L121 467.34 L126.5 467.37 L132 467.37 L137.5 467.33 L143 467.17 L148.5 466.75 L154 465.79 L159.5 463.93 L165 460.86 L170.5 456.59 L176 451.77 L181.5 447.65 L187 445.72 L192.5 446.88 L198 450.69 L203.5 455.78 L209 460.75 L214.5 464.74 L220 467.59 L225.5 469.54 L231 470.95 L236.5 472.05 L242 472.92 L247.5 473.59 L253 474.05 L258.5 474.35 L264 474.54 L269.5 474.65 L275 474.72 L280.5 474.77 L286 474.8 L291.5 474.83 L297 474.86 L302.5 474.88 L308 474.89 L313.5 474.91 L319 474.92 L324.5 474.94 L330 474.95 L335.5 474.96 L337.7 474.96" fill="none" stroke="#4848ff" stroke-width="1.25" stroke-linejoin="round" stroke-opacity="1.0"/>
<path d="M35.2 467.27 L38.5 467.27 L44 467.26 L49.5 467.26 L55 467.26 L60.5 467.25 L66 467.24 L71.5 467.22 L77 467.18 L82.5 467.08 L88 466.86 L93.5 466.4 L99 465.6 L104.5 464.47 L110 463.27 L115.5 462.48 L121 462.58 L126.5 463.52 L132 464.82 L137.5 465.98 L143 466.81 L148.5 467.3 L154 467.56 L159.5 467.71 L165 467.81 L170.5 467.91 L176 468.04 L181.5 468.2 L187 468.4 L192.5 468.63 L198 468.86 L203.5 469.11 L209 469.38 L214.5 469.73 L220 470.2 L225.5 470.83 L231 471.59 L236.5 472.41 L242 473.16 L247.5 473.76 L253 474.2 L258.5 474.48 L264 474.64 L269.5 474.74 L275 474.8 L280.5 474.84 L286 474.87 L291.5 474.89 L297 474.91 L302.5 474.92 L308 474.94 L313.5 474.95 L319 474.96 L324.5 474.97 L330 474.98 L335.5 474.98 L337.7 474.99" fill="none" stroke="#36a636" stroke-width="1.25" stroke-linejoin="round" stroke-opacity="1.0"/>
<path d="M35.2 467.29 L38.5 467.29 L44 467.29 L49.5 467.29 L55 467.29 L60.5 467.29 L66 467.29 L71.5 467.29 L77 467.29 L82.5 467.29 L88 467.28 L93.5 467.28 L99 467.27 L104.5 467.26 L110 467.21 L115.5 467.08 L121 466.77 L126.5 466.19 L132 465.34 L137.5 464.41 L143 463.77 L148.5 463.82 L154 464.56 L159.5 465.6 L165 466.56 L170.5 467.27 L176 467.74 L181.5 468.07 L187 468.34 L192.5 468.59 L198 468.84 L203.5 469.09 L209 469.37 L214.5 469.72 L220 470.19 L225.5 470.82 L231 471.58 L236.5 472.4 L242 473.15 L247.5 473.76 L253 474.19 L258.5 474.47 L264 474.64 L269.5 474.74 L275 474.8 L280.5 474.84 L286 474.87 L291.5 474.89 L297 474.91 L302.5 474.92 L308 474.94 L313.5 474.95 L319 474.96 L324.5 474.97 L330 474.98 L335.5 474.98 L337.7 474.99" fill="none" stroke="#ff3cff" stroke-width="1.25" stroke-linejoin="round" stroke-opacity="1.0"/>
<path d="M35.2 467.3 L38.5 467.3 L44 467.3 L49.5 467.31 L55 467.31 L60.5 467.31 L66 467.32 L71.5 467.32 L77 467.32 L82.5 467.33 L88 467.34 L93.5 467.34 L99 467.36 L104.5 467.37 L110 467.4 L115.5 467.44 L121 467.49 L126.5 467.54 L132 467.59 L137.5 467.64 L143 467.69 L148.5 467.74 L154 467.79 L159.5 467.85 L165 467.91 L170.5 467.99 L176 468.1 L181.5 468.26 L187 468.45 L192.5 468.67 L198 468.9 L203.5 469.14 L209 469.41 L214.5 469.76 L220 470.23 L225.5 470.85 L231 471.61 L236.5 472.42 L242 473.17 L247.5 473.78 L253 474.21 L258.5 474.49 L264 474.65 L269.5 474.75 L275 474.81 L280.5 474.85 L286 474.87 L291.5 474.9 L297 474.91 L302.5 474.93 L308 474.94 L313.5 474.95 L319 474.96 L324.5 474.97 L330 474.98 L335.5 474.99 L337.7 474.99" fill="none" stroke="#24248c" stroke-width="1.3" stroke-linejoin="round" stroke-opacity="1.0"/>
<path d="M35.2 467 L38.5 466.99 L44 466.97 L49.5 466.95 L55 466.92 L60.5 466.89 L66 466.85 L71.5 466.8 L77 466.73 L82.5 466.6 L88 466.33 L93.5 465.82 L99 464.95 L104.5 463.74 L110 462.4 L115.5 461.36 L121 461.02 L126.5 461.23 L132 461.49 L137.5 461.49 L143 461.31 L148.5 461.19 L154 460.95 L159.5 459.95 L165 457.56 L170.5 453.61 L176 448.7 L181.5 444.03 L187 440.88 L192.5 439.55 L198 438.47 L203.5 434.76 L209 425.69 L214.5 410.49 L220 391.57 L225.5 374.97 L231 368.8 L236.5 377.48 L242 396.92 L247.5 419.36 L253 439.04 L258.5 453.38 L264 462.39 L269.5 467.42 L275 470.02 L280.5 471.37 L286 472.14 L291.5 472.63 L297 472.99 L302.5 473.28 L308 473.5 L313.5 473.69 L319 473.84 L324.5 473.98 L330 474.09 L335.5 474.18 L337.7 474.22" fill="none" stroke="#8c26e2" stroke-width="1.3" stroke-linejoin="round" stroke-opacity="1.0"/>
<path d="M35.2 467.08 L38.5 467.07 L44 467.06 L49.5 467.05 L55 467.04 L60.5 467.02 L66 467.01 L71.5 466.99 L77 466.97 L82.5 466.95 L88 466.92 L93.5 466.9 L99 466.87 L104.5 466.85 L110 466.83 L115.5 466.81 L121 466.8 L126.5 466.78 L132 466.74 L137.5 466.69 L143 466.62 L148.5 466.53 L154 466.41 L159.5 466.26 L165 466.06 L170.5 465.81 L176 465.46 L181.5 464.88 L187 463.77 L192.5 461.46 L198 456.78 L203.5 448.19 L209 434.43 L214.5 415.56 L220 394.26 L225.5 376.32 L231 369.5 L236.5 377.9 L242 397.21 L247.5 419.58 L253 439.22 L258.5 453.54 L264 462.53 L269.5 467.54 L275 470.13 L280.5 471.47 L286 472.23 L291.5 472.71 L297 473.07 L302.5 473.34 L308 473.56 L313.5 473.75 L319 473.9 L324.5 474.02 L330 474.13 L335.5 474.22 L337.7 474.26" fill="none" stroke="#ff3a3a" stroke-width="1.1" stroke-linejoin="round" stroke-opacity="0.3"/>
<line x1="35.2" y1="357.3" x2="35.2" y2="490.5" stroke="#5a5a5a" stroke-width="1.4"/>
<line x1="34.5" y1="487.5" x2="338.3" y2="487.5" stroke="#5a5a5a" stroke-width="1.4"/>
<line x1="35.2" y1="487.5" x2="35.2" y2="490.5" stroke="#5a5a5a" stroke-width="1.1"/>
<line x1="62.7" y1="487.5" x2="62.7" y2="489.5" stroke="#5a5a5a" stroke-width="1.1"/>
<line x1="90.2" y1="487.5" x2="90.2" y2="490.5" stroke="#5a5a5a" stroke-width="1.1"/>
<line x1="117.7" y1="487.5" x2="117.7" y2="489.5" stroke="#5a5a5a" stroke-width="1.1"/>
<line x1="145.2" y1="487.5" x2="145.2" y2="490.5" stroke="#5a5a5a" stroke-width="1.1"/>
<line x1="172.7" y1="487.5" x2="172.7" y2="489.5" stroke="#5a5a5a" stroke-width="1.1"/>
<line x1="200.2" y1="487.5" x2="200.2" y2="490.5" stroke="#5a5a5a" stroke-width="1.1"/>
<line x1="227.7" y1="487.5" x2="227.7" y2="489.5" stroke="#5a5a5a" stroke-width="1.1"/>
<line x1="255.2" y1="487.5" x2="255.2" y2="490.5" stroke="#5a5a5a" stroke-width="1.1"/>
<line x1="282.7" y1="487.5" x2="282.7" y2="489.5" stroke="#5a5a5a" stroke-width="1.1"/>
<line x1="310.2" y1="487.5" x2="310.2" y2="490.5" stroke="#5a5a5a" stroke-width="1.1"/>
<line x1="337.7" y1="487.5" x2="337.7" y2="489.5" stroke="#5a5a5a" stroke-width="1.1"/>
<text transform="matrix(0 -1 1.1 0 122.5 448.84)" font-size="11.7" text-anchor="start" font-family='"Liberation Sans", sans-serif' font-weight="normal" fill="#0a0a0a" stroke="#0a0a0a" stroke-width="0.3">HO-C=O</text>
<line x1="118.3" y1="451" x2="118.3" y2="457.7" stroke="#222" stroke-width="1.1"/>
<path d="M116.8 455.7 L119.8 455.7 L118.3 461.2 Z" fill="#111"/>
<text transform="matrix(0 -1 1.1 0 149.7 449.08)" font-size="11.7" text-anchor="start" font-family='"Liberation Sans", sans-serif' font-weight="normal" fill="#0a0a0a" stroke="#0a0a0a" stroke-width="0.3">C=O</text>
<line x1="145.5" y1="451.6" x2="145.5" y2="458.7" stroke="#222" stroke-width="1.1"/>
<path d="M144 456.7 L147 456.7 L145.5 462.2 Z" fill="#111"/>
<text transform="matrix(0 -1 1.1 0 192.3 428.08)" font-size="11.7" text-anchor="start" font-family='"Liberation Sans", sans-serif' font-weight="normal" fill="#0a0a0a" stroke="#0a0a0a" stroke-width="0.3">C-OH</text>
<line x1="188.1" y1="430.6" x2="188.1" y2="441.3" stroke="#222" stroke-width="1.1"/>
<path d="M186.6 439.3 L189.6 439.3 L188.1 444.8 Z" fill="#111"/>
<text transform="matrix(0 -1 1.1 0 235.4 356.78)" font-size="11.7" text-anchor="start" font-family='"Liberation Sans", sans-serif' font-weight="normal" fill="#0a0a0a" stroke="#0a0a0a" stroke-width="0.3">C-C</text>
<line x1="231.2" y1="359.3" x2="231.2" y2="364.6" stroke="#222" stroke-width="1.1"/>
<path d="M229.7 362.6 L232.7 362.6 L231.2 368.1 Z" fill="#111"/>
<text x="46.35" y="368.7" font-size="12.7" text-anchor="start" font-family='"Liberation Sans", sans-serif' font-weight="normal" fill="#0a0a0a" stroke="#0a0a0a" stroke-width="0.3">10 mins</text>
<path d="M381.2 470.97 L382.3 470.55 L387.8 470.66 L393.3 470.76 L398.8 470.56 L404.3 470.3 L409.8 470.17 L415.3 470.06 L420.8 470.29 L426.3 469.84 L431.8 469.75 L437.3 468.95 L442.8 467.89 L448.3 466.51 L453.8 465.01 L459.3 463.9 L464.8 463.47 L470.3 463.62 L475.8 464.45 L481.3 464.83 L486.8 465.36 L492.3 465.74 L497.8 466.03 L503.3 465.7 L508.8 464.91 L514.3 462.72 L519.8 458.4 L525.3 452.7 L530.8 446.93 L536.3 442.49 L541.8 439.25 L547.3 436.82 L552.8 432.55 L558.3 423.18 L563.8 407.86 L569.3 389.05 L574.8 374.28 L580.3 369.28 L585.8 376.82 L591.3 394.73 L596.8 417.28 L602.3 438.07 L607.8 454.01 L613.3 465 L618.8 471 L624.3 473.05 L629.8 474.17 L635.3 474.55 L640.8 474.82 L646.3 475.11 L651.8 475.7 L657.3 476.19 L662.8 476.06 L668.3 475.98 L673.8 476.44 L679.3 476.4 L683.7 476.84" fill="none" stroke="#1a1a1a" stroke-width="1.1" stroke-linejoin="round" stroke-opacity="1.0"/>
<path d="M381.2 470.78 L382.3 470.77 L387.8 470.76 L393.3 470.75 L398.8 470.74 L404.3 470.72 L409.8 470.71 L415.3 470.69 L420.8 470.67 L426.3 470.65 L431.8 470.63 L437.3 470.61 L442.8 470.58 L448.3 470.57 L453.8 470.55 L459.3 470.54 L464.8 470.53 L470.3 470.51 L475.8 470.48 L481.3 470.44 L486.8 470.37 L492.3 470.29 L497.8 470.18 L503.3 470.04 L508.8 469.85 L514.3 469.62 L519.8 469.33 L525.3 468.93 L530.8 468.28 L536.3 467.07 L541.8 464.61 L547.3 459.67 L552.8 450.66 L558.3 436.21 L563.8 416.41 L569.3 394.03 L574.8 375.13 L580.3 367.84 L585.8 376.44 L591.3 396.49 L596.8 419.77 L602.3 440.24 L607.8 455.16 L613.3 464.53 L618.8 469.75 L624.3 472.45 L629.8 473.84 L635.3 474.63 L640.8 475.13 L646.3 475.5 L651.8 475.79 L657.3 476.02 L662.8 476.2 L668.3 476.36 L673.8 476.49 L679.3 476.6 L683.7 476.68" fill="none" stroke="#ff3a3a" stroke-width="1.25" stroke-linejoin="round" stroke-opacity="1.0"/>
<path d="M381.2 470.97 L382.3 470.97 L387.8 470.97 L393.3 470.97 L398.8 470.97 L404.3 470.97 L409.8 470.97 L415.3 470.97 L420.8 470.97 L426.3 470.97 L431.8 470.97 L437.3 470.97 L442.8 470.97 L448.3 470.98 L453.8 471 L459.3 471.03 L464.8 471.05 L470.3 471.08 L475.8 471.1 L481.3 471.11 L486.8 471.08 L492.3 470.96 L497.8 470.64 L503.3 469.87 L508.8 468.29 L514.3 465.5 L519.8 461.32 L525.3 456.11 L530.8 450.97 L536.3 447.52 L541.8 447.18 L547.3 450.18 L552.8 455.34 L558.3 461.02 L563.8 465.95 L569.3 469.6 L574.8 472.06 L580.3 473.7 L585.8 474.84 L591.3 475.66 L596.8 476.25 L602.3 476.66 L607.8 476.92 L613.3 477.08 L618.8 477.18 L624.3 477.24 L629.8 477.28 L635.3 477.32 L640.8 477.34 L646.3 477.37 L651.8 477.39 L657.3 477.4 L662.8 477.42 L668.3 477.43 L673.8 477.44 L679.3 477.45 L683.7 477.46" fill="none" stroke="#4848ff" stroke-width="1.25" stroke-linejoin="round" stroke-opacity="1.0"/>
<path d="M381.2 470.95 L382.3 470.95 L387.8 470.94 L393.3 470.93 L398.8 470.92 L404.3 470.91 L409.8 470.88 L415.3 470.84 L420.8 470.76 L426.3 470.57 L431.8 470.2 L437.3 469.53 L442.8 468.49 L448.3 467.15 L453.8 465.76 L459.3 464.78 L464.8 464.68 L470.3 465.52 L475.8 466.92 L481.3 468.38 L486.8 469.58 L492.3 470.41 L497.8 470.9 L503.3 471.17 L508.8 471.32 L514.3 471.42 L519.8 471.5 L525.3 471.61 L530.8 471.74 L536.3 471.9 L541.8 472.1 L547.3 472.31 L552.8 472.53 L558.3 472.78 L563.8 473.09 L569.3 473.5 L574.8 474.02 L580.3 474.66 L585.8 475.34 L591.3 475.97 L596.8 476.47 L602.3 476.83 L607.8 477.06 L613.3 477.2 L618.8 477.28 L624.3 477.33 L629.8 477.36 L635.3 477.39 L640.8 477.41 L646.3 477.42 L651.8 477.44 L657.3 477.45 L662.8 477.46 L668.3 477.47 L673.8 477.47 L679.3 477.48 L683.7 477.49" fill="none" stroke="#36a636" stroke-width="1.25" stroke-linejoin="round" stroke-opacity="1.0"/>
<path d="M381.2 470.99 L382.3 470.99 L387.8 470.99 L393.3 470.99 L398.8 470.99 L404.3 470.99 L409.8 470.99 L415.3 470.99 L420.8 470.99 L426.3 470.99 L431.8 470.99 L437.3 470.98 L442.8 470.98 L448.3 470.97 L453.8 470.94 L459.3 470.85 L464.8 470.64 L470.3 470.25 L475.8 469.67 L481.3 468.96 L486.8 468.35 L492.3 468.1 L497.8 468.37 L503.3 469.04 L508.8 469.82 L514.3 470.52 L519.8 471.04 L525.3 471.39 L530.8 471.65 L536.3 471.87 L541.8 472.08 L547.3 472.3 L552.8 472.53 L558.3 472.79 L563.8 473.1 L569.3 473.5 L574.8 474.03 L580.3 474.67 L585.8 475.34 L591.3 475.97 L596.8 476.47 L602.3 476.83 L607.8 477.07 L613.3 477.2 L618.8 477.29 L624.3 477.34 L629.8 477.37 L635.3 477.39 L640.8 477.41 L646.3 477.43 L651.8 477.44 L657.3 477.45 L662.8 477.46 L668.3 477.47 L673.8 477.48 L679.3 477.48 L683.7 477.49" fill="none" stroke="#ff3cff" stroke-width="1.25" stroke-linejoin="round" stroke-opacity="1.0"/>
<path d="M381.2 471 L382.3 471 L387.8 471 L393.3 471.01 L398.8 471.01 L404.3 471.01 L409.8 471.01 L415.3 471.02 L420.8 471.02 L426.3 471.03 L431.8 471.03 L437.3 471.04 L442.8 471.05 L448.3 471.07 L453.8 471.1 L459.3 471.14 L464.8 471.19 L470.3 471.24 L475.8 471.28 L481.3 471.33 L486.8 471.37 L492.3 471.41 L497.8 471.44 L503.3 471.48 L508.8 471.51 L514.3 471.56 L519.8 471.61 L525.3 471.7 L530.8 471.81 L536.3 471.97 L541.8 472.15 L547.3 472.36 L552.8 472.58 L558.3 472.82 L563.8 473.13 L569.3 473.53 L574.8 474.05 L580.3 474.69 L585.8 475.36 L591.3 475.99 L596.8 476.49 L602.3 476.85 L607.8 477.08 L613.3 477.22 L618.8 477.3 L624.3 477.35 L629.8 477.38 L635.3 477.4 L640.8 477.42 L646.3 477.43 L651.8 477.45 L657.3 477.46 L662.8 477.47 L668.3 477.47 L673.8 477.48 L679.3 477.49 L683.7 477.49" fill="none" stroke="#24248c" stroke-width="1.3" stroke-linejoin="round" stroke-opacity="1.0"/>
<path d="M381.2 470.68 L382.3 470.67 L387.8 470.65 L393.3 470.62 L398.8 470.59 L404.3 470.56 L409.8 470.51 L415.3 470.44 L420.8 470.32 L426.3 470.1 L431.8 469.69 L437.3 468.97 L442.8 467.87 L448.3 466.45 L453.8 464.95 L459.3 463.78 L464.8 463.35 L470.3 463.66 L475.8 464.32 L481.3 464.91 L486.8 465.28 L492.3 465.54 L497.8 465.76 L503.3 465.68 L508.8 464.75 L514.3 462.39 L519.8 458.35 L525.3 452.94 L530.8 447.19 L536.3 442.45 L541.8 439.5 L547.3 437.39 L552.8 433.33 L558.3 424.33 L563.8 409.16 L569.3 390.04 L574.8 373.09 L580.3 366.8 L585.8 375.87 L591.3 396.12 L596.8 419.5 L602.3 440.01 L607.8 454.97 L613.3 464.36 L618.8 469.6 L624.3 472.32 L629.8 473.73 L635.3 474.52 L640.8 475.04 L646.3 475.42 L651.8 475.71 L657.3 475.94 L662.8 476.14 L668.3 476.3 L673.8 476.43 L679.3 476.55 L683.7 476.63" fill="none" stroke="#8c26e2" stroke-width="1.3" stroke-linejoin="round" stroke-opacity="1.0"/>
<path d="M381.2 470.78 L382.3 470.77 L387.8 470.76 L393.3 470.75 L398.8 470.74 L404.3 470.72 L409.8 470.71 L415.3 470.69 L420.8 470.67 L426.3 470.65 L431.8 470.63 L437.3 470.61 L442.8 470.58 L448.3 470.57 L453.8 470.55 L459.3 470.54 L464.8 470.53 L470.3 470.51 L475.8 470.48 L481.3 470.44 L486.8 470.37 L492.3 470.29 L497.8 470.18 L503.3 470.04 L508.8 469.85 L514.3 469.62 L519.8 469.33 L525.3 468.93 L530.8 468.28 L536.3 467.07 L541.8 464.61 L547.3 459.67 L552.8 450.66 L558.3 436.21 L563.8 416.41 L569.3 394.03 L574.8 375.13 L580.3 367.84 L585.8 376.44 L591.3 396.49 L596.8 419.77 L602.3 440.24 L607.8 455.16 L613.3 464.53 L618.8 469.75 L624.3 472.45 L629.8 473.84 L635.3 474.63 L640.8 475.13 L646.3 475.5 L651.8 475.79 L657.3 476.02 L662.8 476.2 L668.3 476.36 L673.8 476.49 L679.3 476.6 L683.7 476.68" fill="none" stroke="#ff3a3a" stroke-width="1.1" stroke-linejoin="round" stroke-opacity="0.3"/>
<line x1="381.2" y1="357.3" x2="381.2" y2="490.5" stroke="#5a5a5a" stroke-width="1.4"/>
<line x1="380.5" y1="487.5" x2="684.3" y2="487.5" stroke="#5a5a5a" stroke-width="1.4"/>
<line x1="381.2" y1="487.5" x2="381.2" y2="490.5" stroke="#5a5a5a" stroke-width="1.1"/>
<line x1="408.7" y1="487.5" x2="408.7" y2="489.5" stroke="#5a5a5a" stroke-width="1.1"/>
<line x1="436.2" y1="487.5" x2="436.2" y2="490.5" stroke="#5a5a5a" stroke-width="1.1"/>
<line x1="463.7" y1="487.5" x2="463.7" y2="489.5" stroke="#5a5a5a" stroke-width="1.1"/>
<line x1="491.2" y1="487.5" x2="491.2" y2="490.5" stroke="#5a5a5a" stroke-width="1.1"/>
<line x1="518.7" y1="487.5" x2="518.7" y2="489.5" stroke="#5a5a5a" stroke-width="1.1"/>
<line x1="546.2" y1="487.5" x2="546.2" y2="490.5" stroke="#5a5a5a" stroke-width="1.1"/>
<line x1="573.7" y1="487.5" x2="573.7" y2="489.5" stroke="#5a5a5a" stroke-width="1.1"/>
<line x1="601.2" y1="487.5" x2="601.2" y2="490.5" stroke="#5a5a5a" stroke-width="1.1"/>
<line x1="628.7" y1="487.5" x2="628.7" y2="489.5" stroke="#5a5a5a" stroke-width="1.1"/>
<line x1="656.2" y1="487.5" x2="656.2" y2="490.5" stroke="#5a5a5a" stroke-width="1.1"/>
<line x1="683.7" y1="487.5" x2="683.7" y2="489.5" stroke="#5a5a5a" stroke-width="1.1"/>
<text transform="matrix(0 -1 1.1 0 468.7 452.24)" font-size="11.7" text-anchor="start" font-family='"Liberation Sans", sans-serif' font-weight="normal" fill="#0a0a0a" stroke="#0a0a0a" stroke-width="0.3">HO-C=O</text>
<line x1="464.5" y1="454.4" x2="464.5" y2="460.4" stroke="#222" stroke-width="1.1"/>
<path d="M463 458.4 L466 458.4 L464.5 463.9 Z" fill="#111"/>
<text transform="matrix(0 -1 1.1 0 498.1 454.98)" font-size="11.7" text-anchor="start" font-family='"Liberation Sans", sans-serif' font-weight="normal" fill="#0a0a0a" stroke="#0a0a0a" stroke-width="0.3">C=O</text>
<line x1="493.9" y1="457.5" x2="493.9" y2="463.8" stroke="#222" stroke-width="1.1"/>
<path d="M492.4 461.8 L495.4 461.8 L493.9 467.3 Z" fill="#111"/>
<text transform="matrix(0 -1 1.1 0 545.1 431.48)" font-size="11.7" text-anchor="start" font-family='"Liberation Sans", sans-serif' font-weight="normal" fill="#0a0a0a" stroke="#0a0a0a" stroke-width="0.3">C-OH</text>
<line x1="540.9" y1="434" x2="540.9" y2="442.6" stroke="#222" stroke-width="1.1"/>
<path d="M539.4 440.6 L542.4 440.6 L540.9 446.1 Z" fill="#111"/>
<text transform="matrix(0 -1 1.1 0 584.4 353.78)" font-size="11.7" text-anchor="start" font-family='"Liberation Sans", sans-serif' font-weight="normal" fill="#0a0a0a" stroke="#0a0a0a" stroke-width="0.3">C-C</text>
<line x1="580.2" y1="356.3" x2="580.2" y2="363.3" stroke="#222" stroke-width="1.1"/>
<path d="M578.7 361.3 L581.7 361.3 L580.2 366.8 Z" fill="#111"/>
<text x="395.49" y="369" font-size="12.7" text-anchor="start" font-family='"Liberation Sans", sans-serif' font-weight="normal" fill="#0a0a0a" stroke="#0a0a0a" stroke-width="0.3">30 mins</text>
<path d="M35.2 629.2 L40.7 629.26 L46.2 629.1 L51.7 629.28 L57.2 629.15 L62.7 628.98 L68.2 629.2 L73.7 628.77 L79.2 628.82 L84.7 628.21 L90.2 627.86 L95.7 626.95 L101.2 626.04 L106.7 624.38 L112.2 623.4 L117.7 622.85 L123.2 623.27 L128.7 623.89 L134.2 624.07 L139.7 623.67 L145.2 623.11 L150.7 622.64 L156.2 622.51 L161.7 622.13 L167.2 620.97 L172.7 618.76 L178.2 614.79 L183.7 609.63 L189.2 605.13 L194.7 601.05 L200.2 597.92 L205.7 592.9 L211.2 584.24 L216.7 570.36 L222.2 553.3 L227.7 540.02 L233.2 536.17 L238.7 542.74 L244.2 559.4 L249.7 580.41 L255.2 599.87 L260.7 614.34 L266.2 624.47 L271.7 629.91 L277.2 631.81 L282.7 632.48 L288.2 633.15 L293.7 633.28 L299.2 633.88 L304.7 633.96 L310.2 634.34 L315.7 634.65 L321.2 634.45 L326.7 634.81 L332.2 635.12 L337.7 634.89" fill="none" stroke="#1a1a1a" stroke-width="1.1" stroke-linejoin="round" stroke-opacity="1.0"/>
<path d="M35.2 629.29 L40.7 629.28 L46.2 629.27 L51.7 629.26 L57.2 629.24 L62.7 629.23 L68.2 629.21 L73.7 629.2 L79.2 629.18 L84.7 629.16 L90.2 629.13 L95.7 629.11 L101.2 629.09 L106.7 629.08 L112.2 629.06 L117.7 629.05 L123.2 629.03 L128.7 629 L134.2 628.96 L139.7 628.9 L145.2 628.83 L150.7 628.74 L156.2 628.62 L161.7 628.46 L167.2 628.26 L172.7 627.99 L178.2 627.62 L183.7 627.01 L189.2 625.89 L194.7 623.61 L200.2 619.07 L205.7 610.78 L211.2 597.49 L216.7 579.28 L222.2 558.69 L227.7 541.31 L233.2 534.6 L238.7 542.54 L244.2 561 L249.7 582.45 L255.2 601.29 L260.7 615.03 L266.2 623.66 L271.7 628.46 L277.2 630.95 L282.7 632.23 L288.2 632.95 L293.7 633.42 L299.2 633.76 L304.7 634.02 L310.2 634.23 L315.7 634.41 L321.2 634.55 L326.7 634.67 L332.2 634.77 L337.7 634.86" fill="none" stroke="#ff3a3a" stroke-width="1.25" stroke-linejoin="round" stroke-opacity="1.0"/>
<path d="M35.2 629.47 L40.7 629.47 L46.2 629.47 L51.7 629.47 L57.2 629.47 L62.7 629.47 L68.2 629.47 L73.7 629.47 L79.2 629.47 L84.7 629.47 L90.2 629.47 L95.7 629.48 L101.2 629.48 L106.7 629.5 L112.2 629.52 L117.7 629.55 L123.2 629.57 L128.7 629.59 L134.2 629.6 L139.7 629.59 L145.2 629.53 L150.7 629.35 L156.2 628.88 L161.7 627.84 L167.2 625.87 L172.7 622.7 L178.2 618.43 L183.7 613.76 L189.2 609.97 L194.7 608.49 L200.2 610.03 L205.7 613.99 L211.2 618.98 L216.7 623.7 L222.2 627.44 L227.7 630.06 L233.2 631.82 L238.7 633.01 L244.2 633.84 L249.7 634.42 L255.2 634.81 L260.7 635.06 L266.2 635.21 L271.7 635.3 L277.2 635.36 L282.7 635.4 L288.2 635.43 L293.7 635.46 L299.2 635.48 L304.7 635.49 L310.2 635.51 L315.7 635.52 L321.2 635.53 L326.7 635.54 L332.2 635.55 L337.7 635.56" fill="none" stroke="#4848ff" stroke-width="1.25" stroke-linejoin="round" stroke-opacity="1.0"/>
<path d="M35.2 629.45 L40.7 629.45 L46.2 629.44 L51.7 629.43 L57.2 629.42 L62.7 629.41 L68.2 629.38 L73.7 629.32 L79.2 629.19 L84.7 628.91 L90.2 628.41 L95.7 627.6 L101.2 626.49 L106.7 625.28 L112.2 624.31 L117.7 624.01 L123.2 624.55 L128.7 625.68 L134.2 626.95 L139.7 628.06 L145.2 628.86 L150.7 629.36 L156.2 629.64 L161.7 629.81 L167.2 629.91 L172.7 630 L178.2 630.09 L183.7 630.2 L189.2 630.34 L194.7 630.5 L200.2 630.7 L205.7 630.91 L211.2 631.15 L216.7 631.45 L222.2 631.84 L227.7 632.34 L233.2 632.94 L238.7 633.57 L244.2 634.16 L249.7 634.63 L255.2 634.97 L260.7 635.19 L266.2 635.32 L271.7 635.4 L277.2 635.44 L282.7 635.47 L288.2 635.5 L293.7 635.51 L299.2 635.53 L304.7 635.54 L310.2 635.55 L315.7 635.56 L321.2 635.57 L326.7 635.58 L332.2 635.58 L337.7 635.59" fill="none" stroke="#36a636" stroke-width="1.25" stroke-linejoin="round" stroke-opacity="1.0"/>
<path d="M35.2 629.48 L40.7 629.48 L46.2 629.48 L51.7 629.48 L57.2 629.48 L62.7 629.48 L68.2 629.48 L73.7 629.48 L79.2 629.47 L84.7 629.47 L90.2 629.47 L95.7 629.47 L101.2 629.46 L106.7 629.45 L112.2 629.41 L117.7 629.28 L123.2 629 L128.7 628.46 L134.2 627.63 L139.7 626.6 L145.2 625.63 L150.7 625.11 L156.2 625.35 L161.7 626.23 L167.2 627.37 L172.7 628.42 L178.2 629.22 L183.7 629.76 L189.2 630.12 L194.7 630.39 L200.2 630.63 L205.7 630.87 L211.2 631.12 L216.7 631.42 L222.2 631.82 L227.7 632.32 L233.2 632.92 L238.7 633.56 L244.2 634.15 L249.7 634.63 L255.2 634.96 L260.7 635.18 L266.2 635.31 L271.7 635.39 L277.2 635.44 L282.7 635.47 L288.2 635.49 L293.7 635.51 L299.2 635.53 L304.7 635.54 L310.2 635.55 L315.7 635.56 L321.2 635.57 L326.7 635.57 L332.2 635.58 L337.7 635.59" fill="none" stroke="#ff3cff" stroke-width="1.25" stroke-linejoin="round" stroke-opacity="1.0"/>
<path d="M35.2 629.5 L40.7 629.5 L46.2 629.5 L51.7 629.51 L57.2 629.51 L62.7 629.51 L68.2 629.51 L73.7 629.52 L79.2 629.52 L84.7 629.53 L90.2 629.53 L95.7 629.54 L101.2 629.56 L106.7 629.58 L112.2 629.62 L117.7 629.66 L123.2 629.7 L128.7 629.74 L134.2 629.78 L139.7 629.82 L145.2 629.86 L150.7 629.9 L156.2 629.94 L161.7 629.99 L167.2 630.04 L172.7 630.1 L178.2 630.17 L183.7 630.27 L189.2 630.4 L194.7 630.56 L200.2 630.74 L205.7 630.95 L211.2 631.19 L216.7 631.48 L222.2 631.87 L227.7 632.36 L233.2 632.96 L238.7 633.6 L244.2 634.18 L249.7 634.65 L255.2 634.99 L260.7 635.2 L266.2 635.33 L271.7 635.41 L277.2 635.46 L282.7 635.48 L288.2 635.51 L293.7 635.52 L299.2 635.54 L304.7 635.55 L310.2 635.56 L315.7 635.57 L321.2 635.58 L326.7 635.58 L332.2 635.59 L337.7 635.59" fill="none" stroke="#24248c" stroke-width="1.3" stroke-linejoin="round" stroke-opacity="1.0"/>
<path d="M35.2 629.2 L40.7 629.18 L46.2 629.15 L51.7 629.13 L57.2 629.1 L62.7 629.05 L68.2 629 L73.7 628.91 L79.2 628.74 L84.7 628.44 L90.2 627.89 L95.7 627.02 L101.2 625.85 L106.7 624.55 L112.2 623.45 L117.7 622.92 L123.2 623.06 L128.7 623.52 L134.2 623.81 L139.7 623.7 L145.2 623.28 L150.7 622.86 L156.2 622.66 L161.7 622.37 L167.2 621.29 L172.7 618.82 L178.2 614.85 L183.7 609.93 L189.2 605.13 L194.7 601.33 L200.2 598.2 L205.7 593.69 L211.2 585.17 L216.7 571.4 L222.2 554.17 L227.7 538.93 L233.2 533.4 L238.7 541.9 L244.2 560.61 L249.7 582.17 L255.2 601.07 L260.7 614.84 L266.2 623.49 L271.7 628.32 L277.2 630.82 L282.7 632.12 L288.2 632.85 L293.7 633.33 L299.2 633.68 L304.7 633.95 L310.2 634.16 L315.7 634.34 L321.2 634.49 L326.7 634.61 L332.2 634.72 L337.7 634.81" fill="none" stroke="#8c26e2" stroke-width="1.3" stroke-linejoin="round" stroke-opacity="1.0"/>
<path d="M35.2 629.29 L40.7 629.28 L46.2 629.27 L51.7 629.26 L57.2 629.24 L62.7 629.23 L68.2 629.21 L73.7 629.2 L79.2 629.18 L84.7 629.16 L90.2 629.13 L95.7 629.11 L101.2 629.09 L106.7 629.08 L112.2 629.06 L117.7 629.05 L123.2 629.03 L128.7 629 L134.2 628.96 L139.7 628.9 L145.2 628.83 L150.7 628.74 L156.2 628.62 L161.7 628.46 L167.2 628.26 L172.7 627.99 L178.2 627.62 L183.7 627.01 L189.2 625.89 L194.7 623.61 L200.2 619.07 L205.7 610.78 L211.2 597.49 L216.7 579.28 L222.2 558.69 L227.7 541.31 L233.2 534.6 L238.7 542.54 L244.2 561 L249.7 582.45 L255.2 601.29 L260.7 615.03 L266.2 623.66 L271.7 628.46 L277.2 630.95 L282.7 632.23 L288.2 632.95 L293.7 633.42 L299.2 633.76 L304.7 634.02 L310.2 634.23 L315.7 634.41 L321.2 634.55 L326.7 634.67 L332.2 634.77 L337.7 634.86" fill="none" stroke="#ff3a3a" stroke-width="1.1" stroke-linejoin="round" stroke-opacity="0.3"/>
<line x1="35.2" y1="518" x2="35.2" y2="651.5" stroke="#5a5a5a" stroke-width="1.4"/>
<line x1="34.5" y1="648.5" x2="338.3" y2="648.5" stroke="#5a5a5a" stroke-width="1.4"/>
<line x1="35.2" y1="648.5" x2="35.2" y2="651.5" stroke="#5a5a5a" stroke-width="1.1"/>
<line x1="62.7" y1="648.5" x2="62.7" y2="650.5" stroke="#5a5a5a" stroke-width="1.1"/>
<line x1="90.2" y1="648.5" x2="90.2" y2="651.5" stroke="#5a5a5a" stroke-width="1.1"/>
<line x1="117.7" y1="648.5" x2="117.7" y2="650.5" stroke="#5a5a5a" stroke-width="1.1"/>
<line x1="145.2" y1="648.5" x2="145.2" y2="651.5" stroke="#5a5a5a" stroke-width="1.1"/>
<line x1="172.7" y1="648.5" x2="172.7" y2="650.5" stroke="#5a5a5a" stroke-width="1.1"/>
<line x1="200.2" y1="648.5" x2="200.2" y2="651.5" stroke="#5a5a5a" stroke-width="1.1"/>
<line x1="227.7" y1="648.5" x2="227.7" y2="650.5" stroke="#5a5a5a" stroke-width="1.1"/>
<line x1="255.2" y1="648.5" x2="255.2" y2="651.5" stroke="#5a5a5a" stroke-width="1.1"/>
<line x1="282.7" y1="648.5" x2="282.7" y2="650.5" stroke="#5a5a5a" stroke-width="1.1"/>
<line x1="310.2" y1="648.5" x2="310.2" y2="651.5" stroke="#5a5a5a" stroke-width="1.1"/>
<line x1="337.7" y1="648.5" x2="337.7" y2="650.5" stroke="#5a5a5a" stroke-width="1.1"/>
<text transform="matrix(0 -1 1.1 0 123.4 612.14)" font-size="11.7" text-anchor="start" font-family='"Liberation Sans", sans-serif' font-weight="normal" fill="#0a0a0a" stroke="#0a0a0a" stroke-width="0.3">HO-C=O</text>
<line x1="119.2" y1="614.3" x2="119.2" y2="619.9" stroke="#222" stroke-width="1.1"/>
<path d="M117.7 617.9 L120.7 617.9 L119.2 623.4 Z" fill="#111"/>
<text transform="matrix(0 -1 1.1 0 157.1 611.19)" font-size="11.7" text-anchor="start" font-family='"Liberation Sans", sans-serif' font-weight="normal" fill="#0a0a0a" stroke="#0a0a0a" stroke-width="0.3">C=O</text>
<line x1="152.9" y1="613.7" x2="152.9" y2="620.3" stroke="#222" stroke-width="1.1"/>
<path d="M151.4 618.3 L154.4 618.3 L152.9 623.8 Z" fill="#111"/>
<text transform="matrix(0 -1 1.1 0 198.8 591.39)" font-size="11.7" text-anchor="start" font-family='"Liberation Sans", sans-serif' font-weight="normal" fill="#0a0a0a" stroke="#0a0a0a" stroke-width="0.3">C-OH</text>
<line x1="194.6" y1="593.9" x2="194.6" y2="603.9" stroke="#222" stroke-width="1.1"/>
<path d="M193.1 601.9 L196.1 601.9 L194.6 607.4 Z" fill="#111"/>
<text transform="matrix(0 -1 1.1 0 238.1 519.89)" font-size="11.7" text-anchor="start" font-family='"Liberation Sans", sans-serif' font-weight="normal" fill="#0a0a0a" stroke="#0a0a0a" stroke-width="0.3">C-C</text>
<line x1="233.9" y1="522.4" x2="233.9" y2="527.8" stroke="#222" stroke-width="1.1"/>
<path d="M232.4 525.8 L235.4 525.8 L233.9 531.3 Z" fill="#111"/>
<text x="46.65" y="530" font-size="12.7" text-anchor="start" font-family='"Liberation Sans", sans-serif' font-weight="normal" fill="#0a0a0a" stroke="#0a0a0a" stroke-width="0.3">1 hour</text>
<path d="M381.2 629.6 L381.75 629.51 L387.25 629.96 L392.75 629.59 L398.25 629.93 L403.75 629.61 L409.25 629.76 L414.75 629.37 L420.25 629.08 L425.75 629 L431.25 628.23 L436.75 627.44 L442.25 626.73 L447.75 625.55 L453.25 624.5 L458.75 623.78 L464.25 623.01 L469.75 623.18 L475.25 624.03 L480.75 624.66 L486.25 624.66 L491.75 624.95 L497.25 624.96 L502.75 624.99 L508.25 624.24 L513.75 622.48 L519.25 620.04 L524.75 615.81 L530.25 611.66 L535.75 607.61 L541.25 605.12 L546.75 602.53 L552.25 597.9 L557.75 588.39 L563.25 574.04 L568.75 556.6 L574.25 543.14 L579.75 538.92 L585.25 545.19 L590.75 561.58 L596.25 582.23 L601.75 601.36 L607.25 615.68 L612.75 625.3 L618.25 630.97 L623.75 633.03 L629.25 633.6 L634.75 633.77 L640.25 633.99 L645.75 634.28 L651.25 634.41 L656.75 634.53 L662.25 634.94 L667.75 635.15 L673.25 635.39 L678.75 635.43 L683.7 635.27" fill="none" stroke="#1a1a1a" stroke-width="1.1" stroke-linejoin="round" stroke-opacity="1.0"/>
<path d="M381.2 630 L381.75 630 L387.25 629.99 L392.75 629.98 L398.25 629.97 L403.75 629.95 L409.25 629.94 L414.75 629.92 L420.25 629.91 L425.75 629.89 L431.25 629.87 L436.75 629.86 L442.25 629.84 L447.75 629.83 L453.25 629.83 L458.75 629.82 L464.25 629.82 L469.75 629.81 L475.25 629.79 L480.75 629.75 L486.25 629.7 L491.75 629.63 L497.25 629.53 L502.75 629.41 L508.25 629.25 L513.75 629.04 L519.25 628.78 L524.75 628.41 L530.25 627.82 L535.75 626.72 L541.25 624.49 L546.75 620.02 L552.25 611.88 L557.75 598.84 L563.25 580.97 L568.75 560.78 L574.25 543.75 L579.75 537.21 L585.25 545.02 L590.75 563.16 L596.25 584.22 L601.75 602.71 L607.25 616.2 L612.75 624.67 L618.25 629.39 L623.75 631.83 L629.25 633.09 L634.75 633.8 L640.25 634.26 L645.75 634.59 L651.25 634.85 L656.75 635.06 L662.25 635.23 L667.75 635.37 L673.25 635.49 L678.75 635.59 L683.7 635.66" fill="none" stroke="#ff3a3a" stroke-width="1.25" stroke-linejoin="round" stroke-opacity="1.0"/>
<path d="M381.2 630.18 L381.75 630.18 L387.25 630.18 L392.75 630.18 L398.25 630.18 L403.75 630.18 L409.25 630.18 L414.75 630.18 L420.25 630.18 L425.75 630.18 L431.25 630.19 L436.75 630.19 L442.25 630.2 L447.75 630.22 L453.25 630.25 L458.75 630.28 L464.25 630.31 L469.75 630.35 L475.25 630.37 L480.75 630.39 L486.25 630.37 L491.75 630.29 L497.25 630.06 L502.75 629.48 L508.25 628.3 L513.75 626.18 L519.25 623.02 L524.75 619.07 L530.25 615.17 L535.75 612.56 L541.25 612.32 L546.75 614.62 L552.25 618.57 L557.75 622.91 L563.25 626.71 L568.75 629.57 L574.25 631.55 L579.75 632.92 L585.25 633.93 L590.75 634.69 L596.25 635.24 L601.75 635.62 L607.25 635.87 L612.75 636.02 L618.25 636.11 L623.75 636.17 L629.25 636.21 L634.75 636.24 L640.25 636.26 L645.75 636.28 L651.25 636.3 L656.75 636.32 L662.25 636.33 L667.75 636.34 L673.25 636.35 L678.75 636.36 L683.7 636.37" fill="none" stroke="#4848ff" stroke-width="1.25" stroke-linejoin="round" stroke-opacity="1.0"/>
<path d="M381.2 630.13 L381.75 630.13 L387.25 630.12 L392.75 630.11 L398.25 630.09 L403.75 630.07 L409.25 630.02 L414.75 629.94 L420.25 629.77 L425.75 629.46 L431.25 628.94 L436.75 628.16 L442.25 627.13 L447.75 625.95 L453.25 624.84 L458.75 624.12 L464.25 624.06 L469.75 624.7 L475.25 625.8 L480.75 627.06 L486.25 628.22 L491.75 629.13 L497.25 629.77 L502.75 630.18 L508.25 630.42 L513.75 630.57 L519.25 630.69 L524.75 630.79 L530.25 630.91 L535.75 631.06 L541.25 631.22 L546.75 631.41 L552.25 631.61 L557.75 631.84 L563.25 632.13 L568.75 632.51 L574.25 633.02 L579.75 633.64 L585.25 634.3 L590.75 634.91 L596.25 635.39 L601.75 635.74 L607.25 635.97 L612.75 636.1 L618.25 636.18 L623.75 636.23 L629.25 636.26 L634.75 636.29 L640.25 636.31 L645.75 636.32 L651.25 636.33 L656.75 636.35 L662.25 636.36 L667.75 636.36 L673.25 636.37 L678.75 636.38 L683.7 636.38" fill="none" stroke="#36a636" stroke-width="1.25" stroke-linejoin="round" stroke-opacity="1.0"/>
<path d="M381.2 630.19 L381.75 630.19 L387.25 630.19 L392.75 630.19 L398.25 630.19 L403.75 630.19 L409.25 630.19 L414.75 630.2 L420.25 630.2 L425.75 630.2 L431.25 630.2 L436.75 630.21 L442.25 630.21 L447.75 630.22 L453.25 630.23 L458.75 630.2 L464.25 630.11 L469.75 629.9 L475.25 629.51 L480.75 628.96 L486.25 628.36 L491.75 627.9 L497.25 627.82 L502.75 628.19 L508.25 628.83 L513.75 629.51 L519.25 630.08 L524.75 630.5 L530.25 630.79 L535.75 631.02 L541.25 631.22 L546.75 631.42 L552.25 631.62 L557.75 631.85 L563.25 632.14 L568.75 632.53 L574.25 633.04 L579.75 633.65 L585.25 634.31 L590.75 634.92 L596.25 635.41 L601.75 635.75 L607.25 635.98 L612.75 636.11 L618.25 636.19 L623.75 636.24 L629.25 636.27 L634.75 636.3 L640.25 636.31 L645.75 636.33 L651.25 636.34 L656.75 636.35 L662.25 636.36 L667.75 636.37 L673.25 636.38 L678.75 636.38 L683.7 636.39" fill="none" stroke="#ff3cff" stroke-width="1.25" stroke-linejoin="round" stroke-opacity="1.0"/>
<path d="M381.2 630.2 L381.75 630.2 L387.25 630.2 L392.75 630.21 L398.25 630.21 L403.75 630.21 L409.25 630.21 L414.75 630.22 L420.25 630.22 L425.75 630.23 L431.25 630.24 L436.75 630.25 L442.25 630.27 L447.75 630.29 L453.25 630.32 L458.75 630.36 L464.25 630.41 L469.75 630.46 L475.25 630.51 L480.75 630.55 L486.25 630.59 L491.75 630.63 L497.25 630.67 L502.75 630.71 L508.25 630.75 L513.75 630.79 L519.25 630.84 L524.75 630.91 L530.25 631.01 L535.75 631.14 L541.25 631.3 L546.75 631.48 L552.25 631.67 L557.75 631.89 L563.25 632.17 L568.75 632.56 L574.25 633.06 L579.75 633.67 L585.25 634.33 L590.75 634.93 L596.25 635.42 L601.75 635.77 L607.25 635.99 L612.75 636.13 L618.25 636.2 L623.75 636.25 L629.25 636.28 L634.75 636.3 L640.25 636.32 L645.75 636.34 L651.25 636.35 L656.75 636.36 L662.25 636.37 L667.75 636.38 L673.25 636.38 L678.75 636.39 L683.7 636.39" fill="none" stroke="#24248c" stroke-width="1.3" stroke-linejoin="round" stroke-opacity="1.0"/>
<path d="M381.2 629.89 L381.75 629.89 L387.25 629.87 L392.75 629.84 L398.25 629.8 L403.75 629.76 L409.25 629.69 L414.75 629.58 L420.25 629.39 L425.75 629.05 L431.25 628.49 L436.75 627.67 L442.25 626.59 L447.75 625.35 L453.25 624.17 L458.75 623.33 L464.25 623.07 L469.75 623.36 L475.25 623.95 L480.75 624.5 L486.25 624.86 L491.75 625.05 L497.25 625.17 L502.75 625.13 L508.25 624.56 L513.75 622.95 L519.25 620.04 L524.75 616.03 L530.25 611.66 L535.75 607.93 L541.25 605.35 L546.75 603.04 L552.25 598.67 L557.75 589.77 L563.25 575.43 L568.75 557.72 L574.25 542.18 L579.75 536.4 L585.25 544.57 L590.75 562.87 L596.25 584 L601.75 602.53 L607.25 616.05 L612.75 624.54 L618.25 629.27 L623.75 631.72 L629.25 632.99 L634.75 633.71 L640.25 634.18 L645.75 634.52 L651.25 634.78 L656.75 635 L662.25 635.17 L667.75 635.32 L673.25 635.44 L678.75 635.54 L683.7 635.62" fill="none" stroke="#8c26e2" stroke-width="1.3" stroke-linejoin="round" stroke-opacity="1.0"/>
<path d="M381.2 630 L381.75 630 L387.25 629.99 L392.75 629.98 L398.25 629.97 L403.75 629.95 L409.25 629.94 L414.75 629.92 L420.25 629.91 L425.75 629.89 L431.25 629.87 L436.75 629.86 L442.25 629.84 L447.75 629.83 L453.25 629.83 L458.75 629.82 L464.25 629.82 L469.75 629.81 L475.25 629.79 L480.75 629.75 L486.25 629.7 L491.75 629.63 L497.25 629.53 L502.75 629.41 L508.25 629.25 L513.75 629.04 L519.25 628.78 L524.75 628.41 L530.25 627.82 L535.75 626.72 L541.25 624.49 L546.75 620.02 L552.25 611.88 L557.75 598.84 L563.25 580.97 L568.75 560.78 L574.25 543.75 L579.75 537.21 L585.25 545.02 L590.75 563.16 L596.25 584.22 L601.75 602.71 L607.25 616.2 L612.75 624.67 L618.25 629.39 L623.75 631.83 L629.25 633.09 L634.75 633.8 L640.25 634.26 L645.75 634.59 L651.25 634.85 L656.75 635.06 L662.25 635.23 L667.75 635.37 L673.25 635.49 L678.75 635.59 L683.7 635.66" fill="none" stroke="#ff3a3a" stroke-width="1.1" stroke-linejoin="round" stroke-opacity="0.3"/>
<line x1="381.2" y1="518" x2="381.2" y2="651.5" stroke="#5a5a5a" stroke-width="1.4"/>
<line x1="380.5" y1="648.5" x2="684.3" y2="648.5" stroke="#5a5a5a" stroke-width="1.4"/>
<line x1="381.2" y1="648.5" x2="381.2" y2="651.5" stroke="#5a5a5a" stroke-width="1.1"/>
<line x1="408.7" y1="648.5" x2="408.7" y2="650.5" stroke="#5a5a5a" stroke-width="1.1"/>
<line x1="436.2" y1="648.5" x2="436.2" y2="651.5" stroke="#5a5a5a" stroke-width="1.1"/>
<line x1="463.7" y1="648.5" x2="463.7" y2="650.5" stroke="#5a5a5a" stroke-width="1.1"/>
<line x1="491.2" y1="648.5" x2="491.2" y2="651.5" stroke="#5a5a5a" stroke-width="1.1"/>
<line x1="518.7" y1="648.5" x2="518.7" y2="650.5" stroke="#5a5a5a" stroke-width="1.1"/>
<line x1="546.2" y1="648.5" x2="546.2" y2="651.5" stroke="#5a5a5a" stroke-width="1.1"/>
<line x1="573.7" y1="648.5" x2="573.7" y2="650.5" stroke="#5a5a5a" stroke-width="1.1"/>
<line x1="601.2" y1="648.5" x2="601.2" y2="651.5" stroke="#5a5a5a" stroke-width="1.1"/>
<line x1="628.7" y1="648.5" x2="628.7" y2="650.5" stroke="#5a5a5a" stroke-width="1.1"/>
<line x1="656.2" y1="648.5" x2="656.2" y2="651.5" stroke="#5a5a5a" stroke-width="1.1"/>
<line x1="683.7" y1="648.5" x2="683.7" y2="650.5" stroke="#5a5a5a" stroke-width="1.1"/>
<text transform="matrix(0 -1 1.1 0 468.8 612.14)" font-size="11.7" text-anchor="start" font-family='"Liberation Sans", sans-serif' font-weight="normal" fill="#0a0a0a" stroke="#0a0a0a" stroke-width="0.3">HO-C=O</text>
<line x1="464.6" y1="614.3" x2="464.6" y2="620.8" stroke="#222" stroke-width="1.1"/>
<path d="M463.1 618.8 L466.1 618.8 L464.6 624.3 Z" fill="#111"/>
<text transform="matrix(0 -1 1.1 0 502.2 614.09)" font-size="11.7" text-anchor="start" font-family='"Liberation Sans", sans-serif' font-weight="normal" fill="#0a0a0a" stroke="#0a0a0a" stroke-width="0.3">C=O</text>
<line x1="498" y1="616.6" x2="498" y2="623.1" stroke="#222" stroke-width="1.1"/>
<path d="M496.5 621.1 L499.5 621.1 L498 626.6 Z" fill="#111"/>
<text transform="matrix(0 -1 1.1 0 543.4 595.09)" font-size="11.7" text-anchor="start" font-family='"Liberation Sans", sans-serif' font-weight="normal" fill="#0a0a0a" stroke="#0a0a0a" stroke-width="0.3">C-OH</text>
<line x1="539.2" y1="597.6" x2="539.2" y2="606.7" stroke="#222" stroke-width="1.1"/>
<path d="M537.7 604.7 L540.7 604.7 L539.2 610.2 Z" fill="#111"/>
<text transform="matrix(0 -1 1.1 0 583.9 524.89)" font-size="11.7" text-anchor="start" font-family='"Liberation Sans", sans-serif' font-weight="normal" fill="#0a0a0a" stroke="#0a0a0a" stroke-width="0.3">C-C</text>
<line x1="579.7" y1="527.4" x2="579.7" y2="531.1" stroke="#222" stroke-width="1.1"/>
<path d="M578.2 529.1 L581.2 529.1 L579.7 534.6 Z" fill="#111"/>
<text x="395.37" y="532.5" font-size="12.7" text-anchor="start" font-family='"Liberation Sans", sans-serif' font-weight="normal" fill="#0a0a0a" stroke="#0a0a0a" stroke-width="0.3">2 hours</text>
<path d="M35.2 789.43 L40.42 789.45 L45.92 789.38 L51.42 789.33 L56.93 789.38 L62.43 789.56 L67.92 789.55 L73.42 789.41 L78.92 789.06 L84.43 788.66 L89.93 788.2 L95.42 787.76 L100.92 786.45 L106.42 784.99 L111.93 783.68 L117.43 782.75 L122.92 783.21 L128.42 783.4 L133.92 784.14 L139.43 784.61 L144.93 784.17 L150.42 783.99 L155.92 783.68 L161.42 783.02 L166.93 781.42 L172.43 778.39 L177.92 774.6 L183.42 770.18 L188.92 766.51 L194.43 763.58 L199.93 761.61 L205.42 757.19 L210.92 748.48 L216.42 734.51 L221.93 717.75 L227.43 704.83 L232.92 700.42 L238.42 707.07 L243.92 723.28 L249.43 743.28 L254.93 761.71 L260.42 776.16 L265.92 785.44 L271.42 790.71 L276.93 792.68 L282.43 793.08 L287.92 793.64 L293.42 793.92 L298.92 794.27 L304.43 794.59 L309.93 794.86 L315.42 794.86 L320.92 795.09 L326.42 795.21 L331.93 795.12 L337.43 795.34 L337.7 795.21" fill="none" stroke="#1a1a1a" stroke-width="1.1" stroke-linejoin="round" stroke-opacity="1.0"/>
<path d="M35.2 789.4 L40.42 789.39 L45.92 789.38 L51.42 789.37 L56.93 789.36 L62.43 789.34 L67.92 789.33 L73.42 789.31 L78.92 789.29 L84.43 789.27 L89.93 789.25 L95.42 789.23 L100.92 789.21 L106.42 789.2 L111.93 789.19 L117.43 789.18 L122.92 789.17 L128.42 789.15 L133.92 789.12 L139.43 789.07 L144.93 789 L150.42 788.91 L155.92 788.79 L161.42 788.65 L166.93 788.46 L172.43 788.21 L177.92 787.86 L183.42 787.3 L188.92 786.24 L194.43 784.08 L199.93 779.73 L205.42 771.8 L210.92 759.07 L216.42 741.62 L221.93 721.91 L227.43 705.3 L232.92 698.94 L238.42 706.63 L243.92 724.4 L249.43 745.02 L254.93 763.12 L260.42 776.32 L265.92 784.61 L271.42 789.23 L276.93 791.62 L282.43 792.85 L287.92 793.55 L293.42 794 L298.92 794.32 L304.43 794.58 L309.93 794.78 L315.42 794.95 L320.92 795.08 L326.42 795.2 L331.93 795.3 L337.43 795.38 L337.7 795.39" fill="none" stroke="#ff3a3a" stroke-width="1.25" stroke-linejoin="round" stroke-opacity="1.0"/>
<path d="M35.2 789.57 L40.42 789.58 L45.92 789.58 L51.42 789.58 L56.93 789.58 L62.43 789.58 L67.92 789.58 L73.42 789.57 L78.92 789.57 L84.43 789.57 L89.93 789.58 L95.42 789.58 L100.92 789.59 L106.42 789.6 L111.93 789.62 L117.43 789.65 L122.92 789.68 L128.42 789.71 L133.92 789.72 L139.43 789.71 L144.93 789.62 L150.42 789.37 L155.92 788.77 L161.42 787.52 L166.93 785.29 L172.43 781.94 L177.92 777.76 L183.42 773.64 L188.92 770.88 L194.43 770.64 L199.93 773.08 L205.42 777.27 L210.92 781.88 L216.42 785.9 L221.93 788.92 L227.43 791.01 L232.92 792.46 L238.42 793.51 L243.92 794.3 L249.43 794.88 L254.93 795.28 L260.42 795.54 L265.92 795.7 L271.42 795.79 L276.93 795.85 L282.43 795.9 L287.92 795.93 L293.42 795.95 L298.92 795.97 L304.43 795.99 L309.93 796.01 L315.42 796.02 L320.92 796.03 L326.42 796.04 L331.93 796.05 L337.43 796.06 L337.7 796.07" fill="none" stroke="#4848ff" stroke-width="1.25" stroke-linejoin="round" stroke-opacity="1.0"/>
<path d="M35.2 789.56 L40.42 789.55 L45.92 789.55 L51.42 789.54 L56.93 789.53 L62.43 789.52 L67.92 789.5 L73.42 789.45 L78.92 789.36 L84.43 789.16 L89.93 788.76 L95.42 788.04 L100.92 786.98 L106.42 785.69 L111.93 784.5 L117.43 783.91 L122.92 784.24 L128.42 785.33 L133.92 786.71 L139.43 787.95 L144.93 788.86 L150.42 789.42 L155.92 789.74 L161.42 789.92 L166.93 790.03 L172.43 790.12 L177.92 790.22 L183.42 790.35 L188.92 790.5 L194.43 790.68 L199.93 790.88 L205.42 791.1 L210.92 791.34 L216.42 791.65 L221.93 792.05 L227.43 792.58 L232.92 793.23 L238.42 793.91 L243.92 794.55 L249.43 795.05 L254.93 795.42 L260.42 795.65 L265.92 795.79 L271.42 795.88 L276.93 795.93 L282.43 795.96 L287.92 795.98 L293.42 796 L298.92 796.02 L304.43 796.03 L309.93 796.04 L315.42 796.05 L320.92 796.06 L326.42 796.07 L331.93 796.08 L337.43 796.08 L337.7 796.09" fill="none" stroke="#36a636" stroke-width="1.25" stroke-linejoin="round" stroke-opacity="1.0"/>
<path d="M35.2 789.59 L40.42 789.59 L45.92 789.59 L51.42 789.59 L56.93 789.59 L62.43 789.59 L67.92 789.59 L73.42 789.59 L78.92 789.59 L84.43 789.59 L89.93 789.59 L95.42 789.59 L100.92 789.59 L106.42 789.6 L111.93 789.59 L117.43 789.53 L122.92 789.36 L128.42 788.99 L133.92 788.34 L139.43 787.48 L144.93 786.67 L150.42 786.3 L155.92 786.62 L161.42 787.47 L166.93 788.43 L172.43 789.24 L177.92 789.8 L183.42 790.16 L188.92 790.42 L194.43 790.65 L199.93 790.86 L205.42 791.09 L210.92 791.33 L216.42 791.64 L221.93 792.05 L227.43 792.58 L232.92 793.23 L238.42 793.91 L243.92 794.55 L249.43 795.06 L254.93 795.42 L260.42 795.65 L265.92 795.8 L271.42 795.88 L276.93 795.93 L282.43 795.96 L287.92 795.99 L293.42 796 L298.92 796.02 L304.43 796.03 L309.93 796.04 L315.42 796.05 L320.92 796.06 L326.42 796.07 L331.93 796.08 L337.43 796.08 L337.7 796.09" fill="none" stroke="#ff3cff" stroke-width="1.25" stroke-linejoin="round" stroke-opacity="1.0"/>
<path d="M35.2 789.6 L40.42 789.6 L45.92 789.6 L51.42 789.61 L56.93 789.61 L62.43 789.61 L67.92 789.61 L73.42 789.62 L78.92 789.62 L84.43 789.63 L89.93 789.63 L95.42 789.64 L100.92 789.66 L106.42 789.68 L111.93 789.72 L117.43 789.76 L122.92 789.81 L128.42 789.86 L133.92 789.9 L139.43 789.94 L144.93 789.98 L150.42 790.02 L155.92 790.07 L161.42 790.11 L166.93 790.16 L172.43 790.22 L177.92 790.31 L183.42 790.42 L188.92 790.56 L194.43 790.74 L199.93 790.93 L205.42 791.14 L210.92 791.38 L216.42 791.68 L221.93 792.08 L227.43 792.61 L232.92 793.25 L238.42 793.94 L243.92 794.57 L249.43 795.07 L254.93 795.43 L260.42 795.67 L265.92 795.81 L271.42 795.89 L276.93 795.94 L282.43 795.97 L287.92 795.99 L293.42 796.01 L298.92 796.03 L304.43 796.04 L309.93 796.05 L315.42 796.06 L320.92 796.07 L326.42 796.08 L331.93 796.08 L337.43 796.09 L337.7 796.09" fill="none" stroke="#24248c" stroke-width="1.3" stroke-linejoin="round" stroke-opacity="1.0"/>
<path d="M35.2 789.32 L40.42 789.3 L45.92 789.28 L51.42 789.25 L56.93 789.22 L62.43 789.19 L67.92 789.14 L73.42 789.07 L78.92 788.95 L84.43 788.72 L89.93 788.27 L95.42 787.51 L100.92 786.39 L106.42 785.03 L111.93 783.75 L117.43 783 L122.92 783.04 L128.42 783.61 L133.92 784.18 L139.43 784.37 L144.93 784.2 L150.42 783.94 L155.92 783.73 L161.42 783.21 L166.93 781.72 L172.43 778.83 L177.92 774.72 L183.42 770.19 L188.92 766.36 L194.43 763.83 L199.93 761.77 L205.42 757.83 L210.92 749.48 L216.42 735.77 L221.93 718.69 L227.43 703.65 L232.92 698.1 L238.42 706.16 L243.92 724.1 L249.43 744.79 L254.93 762.94 L260.42 776.17 L265.92 784.47 L271.42 789.11 L276.93 791.51 L282.43 792.76 L287.92 793.46 L293.42 793.92 L298.92 794.25 L304.43 794.51 L309.93 794.72 L315.42 794.89 L320.92 795.03 L326.42 795.15 L331.93 795.25 L337.43 795.34 L337.7 795.35" fill="none" stroke="#8c26e2" stroke-width="1.3" stroke-linejoin="round" stroke-opacity="1.0"/>
<path d="M35.2 789.4 L40.42 789.39 L45.92 789.38 L51.42 789.37 L56.93 789.36 L62.43 789.34 L67.92 789.33 L73.42 789.31 L78.92 789.29 L84.43 789.27 L89.93 789.25 L95.42 789.23 L100.92 789.21 L106.42 789.2 L111.93 789.19 L117.43 789.18 L122.92 789.17 L128.42 789.15 L133.92 789.12 L139.43 789.07 L144.93 789 L150.42 788.91 L155.92 788.79 L161.42 788.65 L166.93 788.46 L172.43 788.21 L177.92 787.86 L183.42 787.3 L188.92 786.24 L194.43 784.08 L199.93 779.73 L205.42 771.8 L210.92 759.07 L216.42 741.62 L221.93 721.91 L227.43 705.3 L232.92 698.94 L238.42 706.63 L243.92 724.4 L249.43 745.02 L254.93 763.12 L260.42 776.32 L265.92 784.61 L271.42 789.23 L276.93 791.62 L282.43 792.85 L287.92 793.55 L293.42 794 L298.92 794.32 L304.43 794.58 L309.93 794.78 L315.42 794.95 L320.92 795.08 L326.42 795.2 L331.93 795.3 L337.43 795.38 L337.7 795.39" fill="none" stroke="#ff3a3a" stroke-width="1.1" stroke-linejoin="round" stroke-opacity="0.3"/>
<line x1="35.2" y1="678.4" x2="35.2" y2="811.4" stroke="#5a5a5a" stroke-width="1.4"/>
<line x1="34.5" y1="808.4" x2="338.3" y2="808.4" stroke="#5a5a5a" stroke-width="1.4"/>
<line x1="35.2" y1="808.4" x2="35.2" y2="811.4" stroke="#5a5a5a" stroke-width="1.1"/>
<text x="26.04" y="826" font-size="11" text-anchor="start" font-family='"Liberation Sans", sans-serif' font-weight="normal" fill="#0a0a0a" stroke="#0a0a0a" stroke-width="0.3">292</text>
<line x1="62.7" y1="808.4" x2="62.7" y2="810.4" stroke="#5a5a5a" stroke-width="1.1"/>
<line x1="90.2" y1="808.4" x2="90.2" y2="811.4" stroke="#5a5a5a" stroke-width="1.1"/>
<text x="80.99" y="826" font-size="11" text-anchor="start" font-family='"Liberation Sans", sans-serif' font-weight="normal" fill="#0a0a0a" stroke="#0a0a0a" stroke-width="0.3">290</text>
<line x1="117.7" y1="808.4" x2="117.7" y2="810.4" stroke="#5a5a5a" stroke-width="1.1"/>
<line x1="145.2" y1="808.4" x2="145.2" y2="811.4" stroke="#5a5a5a" stroke-width="1.1"/>
<text x="135.99" y="826" font-size="11" text-anchor="start" font-family='"Liberation Sans", sans-serif' font-weight="normal" fill="#0a0a0a" stroke="#0a0a0a" stroke-width="0.3">288</text>
<line x1="172.7" y1="808.4" x2="172.7" y2="810.4" stroke="#5a5a5a" stroke-width="1.1"/>
<line x1="200.2" y1="808.4" x2="200.2" y2="811.4" stroke="#5a5a5a" stroke-width="1.1"/>
<text x="191.01" y="826" font-size="11" text-anchor="start" font-family='"Liberation Sans", sans-serif' font-weight="normal" fill="#0a0a0a" stroke="#0a0a0a" stroke-width="0.3">286</text>
<line x1="227.7" y1="808.4" x2="227.7" y2="810.4" stroke="#5a5a5a" stroke-width="1.1"/>
<line x1="255.2" y1="808.4" x2="255.2" y2="811.4" stroke="#5a5a5a" stroke-width="1.1"/>
<text x="245.93" y="826" font-size="11" text-anchor="start" font-family='"Liberation Sans", sans-serif' font-weight="normal" fill="#0a0a0a" stroke="#0a0a0a" stroke-width="0.3">284</text>
<line x1="282.7" y1="808.4" x2="282.7" y2="810.4" stroke="#5a5a5a" stroke-width="1.1"/>
<line x1="310.2" y1="808.4" x2="310.2" y2="811.4" stroke="#5a5a5a" stroke-width="1.1"/>
<text x="301.04" y="826" font-size="11" text-anchor="start" font-family='"Liberation Sans", sans-serif' font-weight="normal" fill="#0a0a0a" stroke="#0a0a0a" stroke-width="0.3">282</text>
<line x1="337.7" y1="808.4" x2="337.7" y2="810.4" stroke="#5a5a5a" stroke-width="1.1"/>
<text transform="matrix(0 -1 1.1 0 124.2 772.34)" font-size="11.7" text-anchor="start" font-family='"Liberation Sans", sans-serif' font-weight="normal" fill="#0a0a0a" stroke="#0a0a0a" stroke-width="0.3">HO-C=O</text>
<line x1="120" y1="774.5" x2="120" y2="779.5" stroke="#222" stroke-width="1.1"/>
<path d="M118.5 777.5 L121.5 777.5 L120 783 Z" fill="#111"/>
<text transform="matrix(0 -1 1.1 0 156.1 771.99)" font-size="11.7" text-anchor="start" font-family='"Liberation Sans", sans-serif' font-weight="normal" fill="#0a0a0a" stroke="#0a0a0a" stroke-width="0.3">C=O</text>
<line x1="151.9" y1="774.5" x2="151.9" y2="782.1" stroke="#222" stroke-width="1.1"/>
<path d="M150.4 780.1 L153.4 780.1 L151.9 785.6 Z" fill="#111"/>
<text transform="matrix(0 -1 1.1 0 198 752.39)" font-size="11.7" text-anchor="start" font-family='"Liberation Sans", sans-serif' font-weight="normal" fill="#0a0a0a" stroke="#0a0a0a" stroke-width="0.3">C-OH</text>
<line x1="193.8" y1="754.9" x2="193.8" y2="765.6" stroke="#222" stroke-width="1.1"/>
<path d="M192.3 763.6 L195.3 763.6 L193.8 769.1 Z" fill="#111"/>
<text transform="matrix(0 -1 1.1 0 237.7 684.89)" font-size="11.7" text-anchor="start" font-family='"Liberation Sans", sans-serif' font-weight="normal" fill="#0a0a0a" stroke="#0a0a0a" stroke-width="0.3">C-C</text>
<line x1="233.5" y1="687.4" x2="233.5" y2="693.2" stroke="#222" stroke-width="1.1"/>
<path d="M232 691.2 L235 691.2 L233.5 696.7 Z" fill="#111"/>
<text x="48.58" y="690.2" font-size="12.7" text-anchor="start" font-family='"Liberation Sans", sans-serif' font-weight="normal" fill="#0a0a0a" stroke="#0a0a0a" stroke-width="0.3">4 hours</text>
<path d="M381.2 785.45 L382.3 785.31 L387.8 785.37 L393.3 785.27 L398.8 785.17 L404.3 784.96 L409.8 784.78 L415.3 785.12 L420.8 785 L426.3 784.82 L431.8 784.49 L437.3 784.09 L442.8 782.92 L448.3 781.51 L453.8 780.46 L459.3 779.32 L464.8 779.02 L470.3 779.55 L475.8 780.38 L481.3 780.98 L486.8 780.73 L492.3 780.7 L497.8 780.92 L503.3 780.84 L508.8 779.56 L514.3 777.16 L519.8 773.33 L525.3 768.21 L530.8 763.14 L536.3 759.41 L541.8 757.06 L547.3 755.13 L552.8 750.64 L558.3 741.43 L563.8 726.91 L569.3 709.1 L574.8 694.72 L580.3 690.43 L585.8 697.77 L591.3 715.35 L596.8 736.86 L602.3 756.97 L607.8 772.21 L613.3 782.58 L618.8 788.04 L624.3 790.13 L629.8 790.79 L635.3 791.31 L640.8 791.56 L646.3 791.93 L651.8 792.44 L657.3 792.47 L662.8 792.63 L668.3 793.1 L673.8 793.12 L679.3 793.21 L683.7 793.22" fill="none" stroke="#1a1a1a" stroke-width="1.1" stroke-linejoin="round" stroke-opacity="1.0"/>
<path d="M381.2 785.29 L382.3 785.29 L387.8 785.28 L393.3 785.27 L398.8 785.25 L404.3 785.24 L409.8 785.23 L415.3 785.21 L420.8 785.2 L426.3 785.18 L431.8 785.16 L437.3 785.14 L442.8 785.12 L448.3 785.11 L453.8 785.1 L459.3 785.1 L464.8 785.1 L470.3 785.1 L475.8 785.09 L481.3 785.06 L486.8 785.01 L492.3 784.93 L497.8 784.84 L503.3 784.72 L508.8 784.56 L514.3 784.36 L519.8 784.11 L525.3 783.76 L530.8 783.19 L536.3 782.1 L541.8 779.83 L547.3 775.21 L552.8 766.72 L558.3 753.06 L563.8 734.35 L569.3 713.21 L574.8 695.45 L580.3 688.78 L585.8 697.25 L591.3 716.59 L596.8 738.95 L602.3 758.57 L607.8 772.87 L613.3 781.84 L618.8 786.84 L624.3 789.43 L629.8 790.77 L635.3 791.53 L640.8 792.02 L646.3 792.37 L651.8 792.65 L657.3 792.87 L662.8 793.05 L668.3 793.2 L673.8 793.33 L679.3 793.44 L683.7 793.52" fill="none" stroke="#ff3a3a" stroke-width="1.25" stroke-linejoin="round" stroke-opacity="1.0"/>
<path d="M381.2 785.47 L382.3 785.47 L387.8 785.47 L393.3 785.48 L398.8 785.48 L404.3 785.48 L409.8 785.48 L415.3 785.48 L420.8 785.48 L426.3 785.48 L431.8 785.48 L437.3 785.48 L442.8 785.49 L448.3 785.51 L453.8 785.53 L459.3 785.57 L464.8 785.61 L470.3 785.65 L475.8 785.68 L481.3 785.7 L486.8 785.68 L492.3 785.57 L497.8 785.26 L503.3 784.52 L508.8 783.01 L514.3 780.37 L519.8 776.47 L525.3 771.72 L530.8 767.18 L536.3 764.35 L541.8 764.44 L547.3 767.51 L552.8 772.4 L558.3 777.63 L563.8 782.13 L569.3 785.5 L574.8 787.88 L580.3 789.6 L585.8 790.91 L591.3 791.94 L596.8 792.7 L602.3 793.23 L607.8 793.58 L613.3 793.79 L618.8 793.92 L624.3 793.99 L629.8 794.05 L635.3 794.09 L640.8 794.12 L646.3 794.15 L651.8 794.17 L657.3 794.19 L662.8 794.21 L668.3 794.22 L673.8 794.24 L679.3 794.25 L683.7 794.26" fill="none" stroke="#4848ff" stroke-width="1.25" stroke-linejoin="round" stroke-opacity="1.0"/>
<path d="M381.2 785.45 L382.3 785.46 L387.8 785.45 L393.3 785.45 L398.8 785.44 L404.3 785.43 L409.8 785.42 L415.3 785.39 L420.8 785.33 L426.3 785.2 L431.8 784.93 L437.3 784.4 L442.8 783.54 L448.3 782.36 L453.8 781.08 L459.3 780.12 L464.8 779.94 L470.3 780.68 L475.8 781.96 L481.3 783.3 L486.8 784.41 L492.3 785.15 L497.8 785.6 L503.3 785.84 L508.8 785.98 L514.3 786.08 L519.8 786.19 L525.3 786.32 L530.8 786.49 L536.3 786.7 L541.8 786.96 L547.3 787.24 L552.8 787.53 L558.3 787.86 L563.8 788.27 L569.3 788.82 L574.8 789.54 L580.3 790.41 L585.8 791.35 L591.3 792.2 L596.8 792.89 L602.3 793.39 L607.8 793.71 L613.3 793.9 L618.8 794.01 L624.3 794.08 L629.8 794.12 L635.3 794.15 L640.8 794.18 L646.3 794.2 L651.8 794.22 L657.3 794.23 L662.8 794.25 L668.3 794.26 L673.8 794.27 L679.3 794.28 L683.7 794.29" fill="none" stroke="#36a636" stroke-width="1.25" stroke-linejoin="round" stroke-opacity="1.0"/>
<path d="M381.2 785.49 L382.3 785.49 L387.8 785.49 L393.3 785.5 L398.8 785.5 L404.3 785.5 L409.8 785.5 L415.3 785.5 L420.8 785.5 L426.3 785.51 L431.8 785.51 L437.3 785.51 L442.8 785.52 L448.3 785.53 L453.8 785.54 L459.3 785.53 L464.8 785.46 L470.3 785.25 L475.8 784.84 L481.3 784.23 L486.8 783.57 L492.3 783.14 L497.8 783.21 L503.3 783.78 L508.8 784.54 L514.3 785.25 L519.8 785.77 L525.3 786.14 L530.8 786.42 L536.3 786.68 L541.8 786.95 L547.3 787.23 L552.8 787.53 L558.3 787.86 L563.8 788.28 L569.3 788.83 L574.8 789.55 L580.3 790.42 L585.8 791.35 L591.3 792.21 L596.8 792.9 L602.3 793.39 L607.8 793.71 L613.3 793.9 L618.8 794.01 L624.3 794.08 L629.8 794.12 L635.3 794.16 L640.8 794.18 L646.3 794.2 L651.8 794.22 L657.3 794.24 L662.8 794.25 L668.3 794.26 L673.8 794.27 L679.3 794.28 L683.7 794.29" fill="none" stroke="#ff3cff" stroke-width="1.25" stroke-linejoin="round" stroke-opacity="1.0"/>
<path d="M381.2 785.5 L382.3 785.5 L387.8 785.51 L393.3 785.51 L398.8 785.51 L404.3 785.51 L409.8 785.52 L415.3 785.52 L420.8 785.53 L426.3 785.53 L431.8 785.54 L437.3 785.55 L442.8 785.56 L448.3 785.59 L453.8 785.62 L459.3 785.67 L464.8 785.73 L470.3 785.79 L475.8 785.85 L481.3 785.9 L486.8 785.95 L492.3 786 L497.8 786.04 L503.3 786.09 L508.8 786.14 L514.3 786.2 L519.8 786.28 L525.3 786.39 L530.8 786.55 L536.3 786.76 L541.8 787.01 L547.3 787.28 L552.8 787.57 L558.3 787.9 L563.8 788.3 L569.3 788.85 L574.8 789.57 L580.3 790.44 L585.8 791.37 L591.3 792.22 L596.8 792.91 L602.3 793.4 L607.8 793.72 L613.3 793.91 L618.8 794.02 L624.3 794.09 L629.8 794.13 L635.3 794.16 L640.8 794.19 L646.3 794.21 L651.8 794.23 L657.3 794.24 L662.8 794.25 L668.3 794.27 L673.8 794.28 L679.3 794.28 L683.7 794.29" fill="none" stroke="#24248c" stroke-width="1.3" stroke-linejoin="round" stroke-opacity="1.0"/>
<path d="M381.2 785.2 L382.3 785.2 L387.8 785.18 L393.3 785.16 L398.8 785.13 L404.3 785.1 L409.8 785.06 L415.3 785.01 L420.8 784.93 L426.3 784.76 L431.8 784.45 L437.3 783.88 L442.8 782.97 L448.3 781.73 L453.8 780.38 L459.3 779.3 L464.8 778.93 L470.3 779.3 L475.8 780.02 L481.3 780.58 L486.8 780.81 L492.3 780.8 L497.8 780.78 L503.3 780.58 L508.8 779.67 L514.3 777.46 L519.8 773.7 L525.3 768.75 L530.8 763.62 L536.3 759.55 L541.8 757.15 L547.3 755.35 L552.8 751.47 L558.3 742.73 L563.8 728.11 L569.3 709.82 L574.8 693.72 L580.3 687.9 L585.8 696.76 L591.3 716.27 L596.8 738.71 L602.3 758.38 L607.8 772.7 L613.3 781.7 L618.8 786.71 L624.3 789.32 L629.8 790.67 L635.3 791.43 L640.8 791.93 L646.3 792.3 L651.8 792.58 L657.3 792.81 L662.8 792.99 L668.3 793.15 L673.8 793.28 L679.3 793.39 L683.7 793.47" fill="none" stroke="#8c26e2" stroke-width="1.3" stroke-linejoin="round" stroke-opacity="1.0"/>
<path d="M381.2 785.29 L382.3 785.29 L387.8 785.28 L393.3 785.27 L398.8 785.25 L404.3 785.24 L409.8 785.23 L415.3 785.21 L420.8 785.2 L426.3 785.18 L431.8 785.16 L437.3 785.14 L442.8 785.12 L448.3 785.11 L453.8 785.1 L459.3 785.1 L464.8 785.1 L470.3 785.1 L475.8 785.09 L481.3 785.06 L486.8 785.01 L492.3 784.93 L497.8 784.84 L503.3 784.72 L508.8 784.56 L514.3 784.36 L519.8 784.11 L525.3 783.76 L530.8 783.19 L536.3 782.1 L541.8 779.83 L547.3 775.21 L552.8 766.72 L558.3 753.06 L563.8 734.35 L569.3 713.21 L574.8 695.45 L580.3 688.78 L585.8 697.25 L591.3 716.59 L596.8 738.95 L602.3 758.57 L607.8 772.87 L613.3 781.84 L618.8 786.84 L624.3 789.43 L629.8 790.77 L635.3 791.53 L640.8 792.02 L646.3 792.37 L651.8 792.65 L657.3 792.87 L662.8 793.05 L668.3 793.2 L673.8 793.33 L679.3 793.44 L683.7 793.52" fill="none" stroke="#ff3a3a" stroke-width="1.1" stroke-linejoin="round" stroke-opacity="0.3"/>
<line x1="381.2" y1="678.4" x2="381.2" y2="811.4" stroke="#5a5a5a" stroke-width="1.4"/>
<line x1="380.5" y1="808.4" x2="684.3" y2="808.4" stroke="#5a5a5a" stroke-width="1.4"/>
<line x1="381.2" y1="808.4" x2="381.2" y2="811.4" stroke="#5a5a5a" stroke-width="1.1"/>
<text x="372.04" y="826" font-size="11" text-anchor="start" font-family='"Liberation Sans", sans-serif' font-weight="normal" fill="#0a0a0a" stroke="#0a0a0a" stroke-width="0.3">292</text>
<line x1="408.7" y1="808.4" x2="408.7" y2="810.4" stroke="#5a5a5a" stroke-width="1.1"/>
<line x1="436.2" y1="808.4" x2="436.2" y2="811.4" stroke="#5a5a5a" stroke-width="1.1"/>
<text x="426.99" y="826" font-size="11" text-anchor="start" font-family='"Liberation Sans", sans-serif' font-weight="normal" fill="#0a0a0a" stroke="#0a0a0a" stroke-width="0.3">290</text>
<line x1="463.7" y1="808.4" x2="463.7" y2="810.4" stroke="#5a5a5a" stroke-width="1.1"/>
<line x1="491.2" y1="808.4" x2="491.2" y2="811.4" stroke="#5a5a5a" stroke-width="1.1"/>
<text x="481.99" y="826" font-size="11" text-anchor="start" font-family='"Liberation Sans", sans-serif' font-weight="normal" fill="#0a0a0a" stroke="#0a0a0a" stroke-width="0.3">288</text>
<line x1="518.7" y1="808.4" x2="518.7" y2="810.4" stroke="#5a5a5a" stroke-width="1.1"/>
<line x1="546.2" y1="808.4" x2="546.2" y2="811.4" stroke="#5a5a5a" stroke-width="1.1"/>
<text x="537.02" y="826" font-size="11" text-anchor="start" font-family='"Liberation Sans", sans-serif' font-weight="normal" fill="#0a0a0a" stroke="#0a0a0a" stroke-width="0.3">286</text>
<line x1="573.7" y1="808.4" x2="573.7" y2="810.4" stroke="#5a5a5a" stroke-width="1.1"/>
<line x1="601.2" y1="808.4" x2="601.2" y2="811.4" stroke="#5a5a5a" stroke-width="1.1"/>
<text x="591.93" y="826" font-size="11" text-anchor="start" font-family='"Liberation Sans", sans-serif' font-weight="normal" fill="#0a0a0a" stroke="#0a0a0a" stroke-width="0.3">284</text>
<line x1="628.7" y1="808.4" x2="628.7" y2="810.4" stroke="#5a5a5a" stroke-width="1.1"/>
<line x1="656.2" y1="808.4" x2="656.2" y2="811.4" stroke="#5a5a5a" stroke-width="1.1"/>
<text x="647.04" y="826" font-size="11" text-anchor="start" font-family='"Liberation Sans", sans-serif' font-weight="normal" fill="#0a0a0a" stroke="#0a0a0a" stroke-width="0.3">282</text>
<line x1="683.7" y1="808.4" x2="683.7" y2="810.4" stroke="#5a5a5a" stroke-width="1.1"/>
<text transform="matrix(0 -1 1.1 0 469.3 767.84)" font-size="11.7" text-anchor="start" font-family='"Liberation Sans", sans-serif' font-weight="normal" fill="#0a0a0a" stroke="#0a0a0a" stroke-width="0.3">HO-C=O</text>
<line x1="465.1" y1="770" x2="465.1" y2="776" stroke="#222" stroke-width="1.1"/>
<path d="M463.6 774 L466.6 774 L465.1 779.5 Z" fill="#111"/>
<text transform="matrix(0 -1 1.1 0 499.5 768.79)" font-size="11.7" text-anchor="start" font-family='"Liberation Sans", sans-serif' font-weight="normal" fill="#0a0a0a" stroke="#0a0a0a" stroke-width="0.3">C=O</text>
<line x1="495.3" y1="771.3" x2="495.3" y2="778.7" stroke="#222" stroke-width="1.1"/>
<path d="M493.8 776.7 L496.8 776.7 L495.3 782.2 Z" fill="#111"/>
<text transform="matrix(0 -1 1.1 0 543.4 748.09)" font-size="11.7" text-anchor="start" font-family='"Liberation Sans", sans-serif' font-weight="normal" fill="#0a0a0a" stroke="#0a0a0a" stroke-width="0.3">C-OH</text>
<line x1="539.2" y1="750.6" x2="539.2" y2="757.8" stroke="#222" stroke-width="1.1"/>
<path d="M537.7 755.8 L540.7 755.8 L539.2 761.3 Z" fill="#111"/>
<text transform="matrix(0 -1 1.1 0 585.2 675.79)" font-size="11.7" text-anchor="start" font-family='"Liberation Sans", sans-serif' font-weight="normal" fill="#0a0a0a" stroke="#0a0a0a" stroke-width="0.3">C-C</text>
<line x1="581" y1="678.3" x2="581" y2="683.1" stroke="#222" stroke-width="1.1"/>
<path d="M579.5 681.1 L582.5 681.1 L581 686.6 Z" fill="#111"/>
<text x="395.17" y="689.5" font-size="12.7" text-anchor="start" font-family='"Liberation Sans", sans-serif' font-weight="normal" fill="#0a0a0a" stroke="#0a0a0a" stroke-width="0.3">6 hours</text>
<text transform="matrix(0 -1 1.0 0 21.4 448.12)" font-size="13.5" text-anchor="start" font-family='"Liberation Sans", sans-serif' font-weight="normal" fill="#0a0a0a" stroke="#0a0a0a" stroke-width="0.3">Intensity</text>
<text transform="matrix(0 -1 1.0 0 21.4 608.92)" font-size="13.5" text-anchor="start" font-family='"Liberation Sans", sans-serif' font-weight="normal" fill="#0a0a0a" stroke="#0a0a0a" stroke-width="0.3">Intensity</text>
<text transform="matrix(0 -1 1.0 0 21.4 769.12)" font-size="13.5" text-anchor="start" font-family='"Liberation Sans", sans-serif' font-weight="normal" fill="#0a0a0a" stroke="#0a0a0a" stroke-width="0.3">Intensity</text>
<text x="123.9" y="846.6" font-size="13.75" text-anchor="start" font-family='"Liberation Sans", sans-serif' font-weight="normal" fill="#0a0a0a" stroke="#0a0a0a" stroke-width="0.3">Binding Energy [eV]</text>
<text x="473.5" y="846.4" font-size="13.75" text-anchor="start" font-family='"Liberation Sans", sans-serif' font-weight="normal" fill="#0a0a0a" stroke="#0a0a0a" stroke-width="0.3">Binding Energy [eV]</text>
<text transform="matrix(1.06 0 0 1 5.09 369)" font-size="14.91" text-anchor="start" font-family='"Liberation Serif", serif' font-weight="bold" fill="#0a0a0a" stroke="#0a0a0a" stroke-width="0.3">(b)</text>
</svg>
</body></html>
